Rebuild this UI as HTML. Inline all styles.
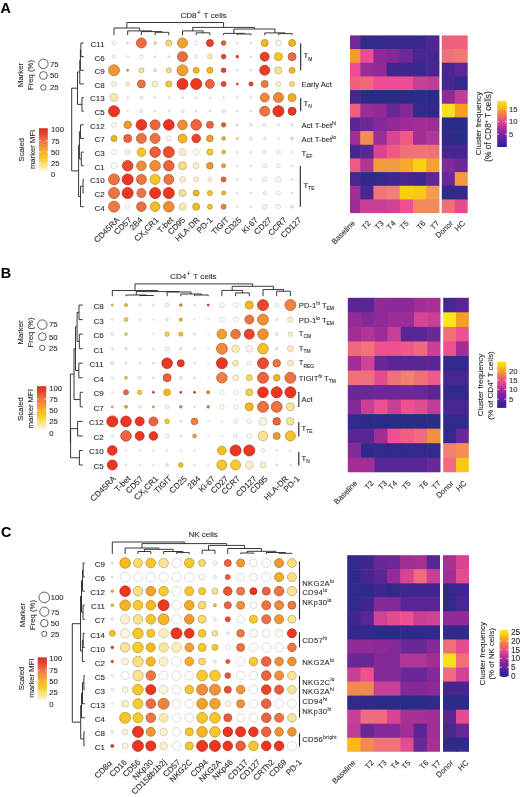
<!DOCTYPE html>
<html><head><meta charset="utf-8"><style>
html,body{margin:0;padding:0;background:#fff;}
svg{display:block;filter:blur(0.35px);}
text{font-family:"Liberation Sans",sans-serif;stroke:#2b2b2b;stroke-width:0.1px;}
</style></head><body>
<svg width="520" height="797" viewBox="0 0 520 797">
<rect width="520" height="797" fill="#fff"/>
<g id="panelA">
<text x="0.6" y="12.9" font-size="14.4" text-anchor="start" font-weight="bold" fill="#000" >A</text>
<text x="180.4" y="18.1" font-size="8.1" text-anchor="start" fill="#2b2b2b" >CD8<tspan font-size="6.5" dy="-3.6" dx="0.5">+</tspan><tspan dy="3.6" dx="0.6"> T cells</tspan></text>
<path d="M155.1,35.2V32.3H168.8V35.2 M141.4,35.2V31.6H161.95V32.3 M127.7,35.2V30.9H151.68V31.6 M114,35.2V28H139.69V30.9 M196.2,35.2V32.8H209.9V35.2 M182.5,35.2V30.9H203.05V32.8 M237.3,35.2V34H251V35.2 M223.6,35.2V33.4H244.15V34 M278.4,35.2V33.6H292.1V35.2 M264.7,35.2V32.9H285.25V33.6 M233.88,33.4V29H274.98V32.9 M192.77,30.9V27.4H254.43V29 M126.84,28V22.5H223.6V27.4" fill="none" stroke="#222" stroke-width="0.9"/>
<path d="M83.8,43H80.9V56.64H83.8 M80.9,49.82H80.4V70.28H83.8 M80.4,60.05H79.8V83.92H83.8 M83.8,97.56H82V111.2H83.8 M79.8,71.98H77.5V104.38H82 M83.8,124.84H80.5V138.48H83.8 M83.8,152.12H81.3V165.76H83.8 M80.5,131.66H79.4V158.94H81.3 M83.8,179.4H83V193.04H83.8 M83,186.22H80.5V206.68H83.8 M79.4,145.3H78.6V196.45H80.5 M77.5,88.18H71.7V170.88H78.6" fill="none" stroke="#222" stroke-width="0.9"/>
<text x="104.7" y="46.9" font-size="8" text-anchor="end" fill="#2b2b2b" >C11</text>
<text x="104.7" y="60.54" font-size="8" text-anchor="end" fill="#2b2b2b" >C6</text>
<text x="104.7" y="74.18" font-size="8" text-anchor="end" fill="#2b2b2b" >C9</text>
<text x="104.7" y="87.82" font-size="8" text-anchor="end" fill="#2b2b2b" >C8</text>
<text x="104.7" y="101.46" font-size="8" text-anchor="end" fill="#2b2b2b" >C13</text>
<text x="104.7" y="115.1" font-size="8" text-anchor="end" fill="#2b2b2b" >C5</text>
<text x="104.7" y="128.74" font-size="8" text-anchor="end" fill="#2b2b2b" >C12</text>
<text x="104.7" y="142.38" font-size="8" text-anchor="end" fill="#2b2b2b" >C7</text>
<text x="104.7" y="156.02" font-size="8" text-anchor="end" fill="#2b2b2b" >C3</text>
<text x="104.7" y="169.66" font-size="8" text-anchor="end" fill="#2b2b2b" >C1</text>
<text x="104.7" y="183.3" font-size="8" text-anchor="end" fill="#2b2b2b" >C10</text>
<text x="104.7" y="196.94" font-size="8" text-anchor="end" fill="#2b2b2b" >C2</text>
<text x="104.7" y="210.58" font-size="8" text-anchor="end" fill="#2b2b2b" >C4</text>
<circle cx="114" cy="43" r="2" fill="#fefcf8" stroke="#d3d1ce" stroke-width="0.75"/>
<circle cx="127.7" cy="43" r="1" fill="#fcf5e4" stroke="#c5bfb2" stroke-width="0.7"/>
<circle cx="141.4" cy="43" r="5" fill="#ec6c44" stroke="#b15133" stroke-width="0.75"/>
<circle cx="155.1" cy="43" r="1.5" fill="#fbe8af" stroke="#c4b588" stroke-width="0.7"/>
<circle cx="168.8" cy="43" r="3" fill="#f9db72" stroke="#bba456" stroke-width="0.75"/>
<circle cx="182.5" cy="43" r="5" fill="#f2a22d" stroke="#b67a22" stroke-width="0.75"/>
<circle cx="196.2" cy="43" r="2" fill="#fefcf8" stroke="#d3d1ce" stroke-width="0.75"/>
<circle cx="209.9" cy="43" r="3.5" fill="#ec3d25" stroke="#b12e1c" stroke-width="0.75"/>
<circle cx="223.6" cy="43" r="2.3" fill="#ec5d3a" stroke="#b1462c" stroke-width="0.75"/>
<circle cx="237.3" cy="43" r="0.8" fill="#fcf5e4" stroke="#c5bfb2" stroke-width="0.7"/>
<circle cx="251" cy="43" r="0.8" fill="#fcf5e4" stroke="#c5bfb2" stroke-width="0.7"/>
<circle cx="264.7" cy="43" r="3.5" fill="#f4b423" stroke="#b7871a" stroke-width="0.75"/>
<circle cx="278.4" cy="43" r="3" fill="#fcf5e4" stroke="#d1cbbd" stroke-width="0.75"/>
<circle cx="292.1" cy="43" r="3.5" fill="#f4b423" stroke="#b7871a" stroke-width="0.75"/>
<circle cx="114" cy="56.64" r="1.5" fill="#fdfaf4" stroke="#c5c3be" stroke-width="0.7"/>
<circle cx="127.7" cy="56.64" r="0.8" fill="#fcf5e4" stroke="#c5bfb2" stroke-width="0.7"/>
<circle cx="141.4" cy="56.64" r="2" fill="#fefcf8" stroke="#d3d1ce" stroke-width="0.75"/>
<circle cx="155.1" cy="56.64" r="0.8" fill="#fcf5e4" stroke="#c5bfb2" stroke-width="0.7"/>
<circle cx="168.8" cy="56.64" r="0.8" fill="#fcf5e4" stroke="#c5bfb2" stroke-width="0.7"/>
<circle cx="182.5" cy="56.64" r="5" fill="#ec6c44" stroke="#b15133" stroke-width="0.75"/>
<circle cx="196.2" cy="56.64" r="1.5" fill="#fdfaf4" stroke="#c5c3be" stroke-width="0.7"/>
<circle cx="209.9" cy="56.64" r="2.5" fill="#fbe8af" stroke="#d0c191" stroke-width="0.75"/>
<circle cx="223.6" cy="56.64" r="2.3" fill="#ec472b" stroke="#b13520" stroke-width="0.75"/>
<circle cx="237.3" cy="56.64" r="1.3" fill="#ec472b" stroke="#992e1c" stroke-width="0.7"/>
<circle cx="251" cy="56.64" r="0.8" fill="#fcf5e4" stroke="#c5bfb2" stroke-width="0.7"/>
<circle cx="264.7" cy="56.64" r="4.5" fill="#ec3d25" stroke="#b12e1c" stroke-width="0.75"/>
<circle cx="278.4" cy="56.64" r="4" fill="#f6c62b" stroke="#b89420" stroke-width="0.75"/>
<circle cx="292.1" cy="56.64" r="4" fill="#ec6c44" stroke="#b15133" stroke-width="0.75"/>
<circle cx="114" cy="70.28" r="5.5" fill="#f19834" stroke="#b57227" stroke-width="0.75"/>
<circle cx="127.7" cy="70.28" r="1" fill="#f2a22d" stroke="#9d691d" stroke-width="0.7"/>
<circle cx="141.4" cy="70.28" r="2.5" fill="#fae398" stroke="#bcaa72" stroke-width="0.75"/>
<circle cx="155.1" cy="70.28" r="1.5" fill="#fbeecd" stroke="#c4baa0" stroke-width="0.7"/>
<circle cx="168.8" cy="70.28" r="2.5" fill="#fade82" stroke="#bca662" stroke-width="0.75"/>
<circle cx="182.5" cy="70.28" r="5.5" fill="#f29e30" stroke="#b67624" stroke-width="0.75"/>
<circle cx="196.2" cy="70.28" r="3" fill="#f5b820" stroke="#b88a18" stroke-width="0.75"/>
<circle cx="209.9" cy="70.28" r="3" fill="#f5b820" stroke="#b88a18" stroke-width="0.75"/>
<circle cx="223.6" cy="70.28" r="2.3" fill="#ec3d25" stroke="#b12e1c" stroke-width="0.75"/>
<circle cx="237.3" cy="70.28" r="0.8" fill="#fcf5e4" stroke="#c5bfb2" stroke-width="0.7"/>
<circle cx="251" cy="70.28" r="0.8" fill="#fcf5e4" stroke="#c5bfb2" stroke-width="0.7"/>
<circle cx="264.7" cy="70.28" r="5" fill="#ec3d25" stroke="#b12e1c" stroke-width="0.75"/>
<circle cx="278.4" cy="70.28" r="3.5" fill="#fae398" stroke="#bcaa72" stroke-width="0.75"/>
<circle cx="292.1" cy="70.28" r="3" fill="#f5b820" stroke="#b88a18" stroke-width="0.75"/>
<circle cx="114" cy="83.92" r="2.5" fill="#fcf5e4" stroke="#d1cbbd" stroke-width="0.75"/>
<circle cx="127.7" cy="83.92" r="2" fill="#fbeecd" stroke="#d0c6aa" stroke-width="0.75"/>
<circle cx="141.4" cy="83.92" r="4" fill="#ed7342" stroke="#b25632" stroke-width="0.75"/>
<circle cx="155.1" cy="83.92" r="3" fill="#fbeecd" stroke="#d0c6aa" stroke-width="0.75"/>
<circle cx="168.8" cy="83.92" r="3" fill="#f7ca2d" stroke="#b99822" stroke-width="0.75"/>
<circle cx="182.5" cy="83.92" r="5.5" fill="#ec3621" stroke="#b12819" stroke-width="0.75"/>
<circle cx="196.2" cy="83.92" r="5.5" fill="#ec3621" stroke="#b12819" stroke-width="0.75"/>
<circle cx="209.9" cy="83.92" r="4.5" fill="#ec633e" stroke="#b14a2e" stroke-width="0.75"/>
<circle cx="223.6" cy="83.92" r="2.5" fill="#ec472b" stroke="#b13520" stroke-width="0.75"/>
<circle cx="237.3" cy="83.92" r="1" fill="#ec472b" stroke="#992e1c" stroke-width="0.7"/>
<circle cx="251" cy="83.92" r="2" fill="#ec3d25" stroke="#b12e1c" stroke-width="0.75"/>
<circle cx="264.7" cy="83.92" r="3.5" fill="#ee7b40" stroke="#b25c30" stroke-width="0.75"/>
<circle cx="278.4" cy="83.92" r="2.5" fill="#fbeecd" stroke="#d0c6aa" stroke-width="0.75"/>
<circle cx="292.1" cy="83.92" r="2.5" fill="#fade82" stroke="#bca662" stroke-width="0.75"/>
<circle cx="114" cy="97.56" r="4" fill="#fbe8af" stroke="#d0c191" stroke-width="0.75"/>
<circle cx="127.7" cy="97.56" r="0.8" fill="#fcf5e4" stroke="#c5bfb2" stroke-width="0.7"/>
<circle cx="141.4" cy="97.56" r="1.5" fill="#fdfaf4" stroke="#c5c3be" stroke-width="0.7"/>
<circle cx="155.1" cy="97.56" r="0.8" fill="#fdfaf4" stroke="#c5c3be" stroke-width="0.7"/>
<circle cx="168.8" cy="97.56" r="0.8" fill="#fdfaf4" stroke="#c5c3be" stroke-width="0.7"/>
<circle cx="182.5" cy="97.56" r="0.8" fill="#fdfaf4" stroke="#c5c3be" stroke-width="0.7"/>
<circle cx="196.2" cy="97.56" r="0.8" fill="#fdfaf4" stroke="#c5c3be" stroke-width="0.7"/>
<circle cx="209.9" cy="97.56" r="0.8" fill="#fdfaf4" stroke="#c5c3be" stroke-width="0.7"/>
<circle cx="223.6" cy="97.56" r="0.8" fill="#fdfaf4" stroke="#c5c3be" stroke-width="0.7"/>
<circle cx="237.3" cy="97.56" r="0.8" fill="#fdfaf4" stroke="#c5c3be" stroke-width="0.7"/>
<circle cx="251" cy="97.56" r="0.8" fill="#fdfaf4" stroke="#c5c3be" stroke-width="0.7"/>
<circle cx="264.7" cy="97.56" r="4.5" fill="#f0883c" stroke="#b4662d" stroke-width="0.75"/>
<circle cx="278.4" cy="97.56" r="5" fill="#f0883c" stroke="#b4662d" stroke-width="0.75"/>
<circle cx="292.1" cy="97.56" r="4" fill="#f4ad27" stroke="#b7821d" stroke-width="0.75"/>
<circle cx="114" cy="111.2" r="5.5" fill="#ec3621" stroke="#b12819" stroke-width="0.75"/>
<circle cx="127.7" cy="111.2" r="0.5" fill="#fdfaf4" stroke="#c5c3be" stroke-width="0.7"/>
<circle cx="141.4" cy="111.2" r="1.5" fill="#fdfaf4" stroke="#c5c3be" stroke-width="0.7"/>
<circle cx="155.1" cy="111.2" r="0.8" fill="#fdfaf4" stroke="#c5c3be" stroke-width="0.7"/>
<circle cx="168.8" cy="111.2" r="0.8" fill="#fdfaf4" stroke="#c5c3be" stroke-width="0.7"/>
<circle cx="182.5" cy="111.2" r="1.5" fill="#fdfaf4" stroke="#c5c3be" stroke-width="0.7"/>
<circle cx="196.2" cy="111.2" r="0.8" fill="#fdfaf4" stroke="#c5c3be" stroke-width="0.7"/>
<circle cx="209.9" cy="111.2" r="0.8" fill="#fdfaf4" stroke="#c5c3be" stroke-width="0.7"/>
<circle cx="223.6" cy="111.2" r="1.5" fill="#fcf5e4" stroke="#c5bfb2" stroke-width="0.7"/>
<circle cx="237.3" cy="111.2" r="0.8" fill="#fdfaf4" stroke="#c5c3be" stroke-width="0.7"/>
<circle cx="251" cy="111.2" r="0.8" fill="#fdfaf4" stroke="#c5c3be" stroke-width="0.7"/>
<circle cx="264.7" cy="111.2" r="5" fill="#ed7342" stroke="#b25632" stroke-width="0.75"/>
<circle cx="278.4" cy="111.2" r="5.5" fill="#ec3621" stroke="#b12819" stroke-width="0.75"/>
<circle cx="292.1" cy="111.2" r="4" fill="#ec3621" stroke="#b12819" stroke-width="0.75"/>
<circle cx="114" cy="124.84" r="2.5" fill="#fdfaf4" stroke="#d2d0cb" stroke-width="0.75"/>
<circle cx="127.7" cy="124.84" r="3.8" fill="#f19834" stroke="#b57227" stroke-width="0.75"/>
<circle cx="141.4" cy="124.84" r="5.3" fill="#ec3621" stroke="#b12819" stroke-width="0.75"/>
<circle cx="155.1" cy="124.84" r="5" fill="#ec633e" stroke="#b14a2e" stroke-width="0.75"/>
<circle cx="168.8" cy="124.84" r="5.3" fill="#ec311e" stroke="#b12516" stroke-width="0.75"/>
<circle cx="182.5" cy="124.84" r="4.8" fill="#f08d39" stroke="#b46a2b" stroke-width="0.75"/>
<circle cx="196.2" cy="124.84" r="5.3" fill="#ec633e" stroke="#b14a2e" stroke-width="0.75"/>
<circle cx="209.9" cy="124.84" r="3.5" fill="#ec633e" stroke="#b14a2e" stroke-width="0.75"/>
<circle cx="223.6" cy="124.84" r="2.2" fill="#ec5d3a" stroke="#b1462c" stroke-width="0.75"/>
<circle cx="237.3" cy="124.84" r="1" fill="#fcf5e4" stroke="#c5bfb2" stroke-width="0.7"/>
<circle cx="251" cy="124.84" r="1.3" fill="#fdfaf4" stroke="#c5c3be" stroke-width="0.7"/>
<circle cx="264.7" cy="124.84" r="1.5" fill="#fdfaf4" stroke="#c5c3be" stroke-width="0.7"/>
<circle cx="278.4" cy="124.84" r="1" fill="#fdfaf4" stroke="#c5c3be" stroke-width="0.7"/>
<circle cx="292.1" cy="124.84" r="1" fill="#fdfaf4" stroke="#c5c3be" stroke-width="0.7"/>
<circle cx="114" cy="138.48" r="3" fill="#f4b423" stroke="#b7871a" stroke-width="0.75"/>
<circle cx="127.7" cy="138.48" r="4" fill="#ec633e" stroke="#b14a2e" stroke-width="0.75"/>
<circle cx="141.4" cy="138.48" r="5" fill="#ed7342" stroke="#b25632" stroke-width="0.75"/>
<circle cx="155.1" cy="138.48" r="5" fill="#ed7342" stroke="#b25632" stroke-width="0.75"/>
<circle cx="168.8" cy="138.48" r="2.5" fill="#fefcf8" stroke="#d3d1ce" stroke-width="0.75"/>
<circle cx="182.5" cy="138.48" r="4.5" fill="#f4b423" stroke="#b7871a" stroke-width="0.75"/>
<circle cx="196.2" cy="138.48" r="4.3" fill="#ec4228" stroke="#b1321e" stroke-width="0.75"/>
<circle cx="209.9" cy="138.48" r="3.3" fill="#f19834" stroke="#b57227" stroke-width="0.75"/>
<circle cx="223.6" cy="138.48" r="1.8" fill="#f4ad27" stroke="#9f7019" stroke-width="0.7"/>
<circle cx="237.3" cy="138.48" r="1.3" fill="#fbebbe" stroke="#c4b794" stroke-width="0.7"/>
<circle cx="251" cy="138.48" r="1.5" fill="#fdfaf4" stroke="#c5c3be" stroke-width="0.7"/>
<circle cx="264.7" cy="138.48" r="1.3" fill="#fdfaf4" stroke="#c5c3be" stroke-width="0.7"/>
<circle cx="278.4" cy="138.48" r="0.8" fill="#fdfaf4" stroke="#c5c3be" stroke-width="0.7"/>
<circle cx="292.1" cy="138.48" r="1.5" fill="#fbebbe" stroke="#c4b794" stroke-width="0.7"/>
<circle cx="114" cy="152.12" r="2.5" fill="#fefcf8" stroke="#d3d1ce" stroke-width="0.75"/>
<circle cx="127.7" cy="152.12" r="2.5" fill="#fcf5e4" stroke="#d1cbbd" stroke-width="0.75"/>
<circle cx="141.4" cy="152.12" r="4.3" fill="#f6c62b" stroke="#b89420" stroke-width="0.75"/>
<circle cx="155.1" cy="152.12" r="5.3" fill="#ec5d3a" stroke="#b1462c" stroke-width="0.75"/>
<circle cx="168.8" cy="152.12" r="5.5" fill="#ec4f30" stroke="#b13b24" stroke-width="0.75"/>
<circle cx="182.5" cy="152.12" r="3.5" fill="#fbeecd" stroke="#d0c6aa" stroke-width="0.75"/>
<circle cx="196.2" cy="152.12" r="3" fill="#fdfaf4" stroke="#d2d0cb" stroke-width="0.75"/>
<circle cx="209.9" cy="152.12" r="3" fill="#f7ca2d" stroke="#b99822" stroke-width="0.75"/>
<circle cx="223.6" cy="152.12" r="1.8" fill="#f6c127" stroke="#a07d19" stroke-width="0.7"/>
<circle cx="237.3" cy="152.12" r="0.8" fill="#fdfaf4" stroke="#c5c3be" stroke-width="0.7"/>
<circle cx="251" cy="152.12" r="0.8" fill="#fdfaf4" stroke="#c5c3be" stroke-width="0.7"/>
<circle cx="264.7" cy="152.12" r="1.5" fill="#fdfaf4" stroke="#c5c3be" stroke-width="0.7"/>
<circle cx="278.4" cy="152.12" r="2" fill="#fdfaf4" stroke="#d2d0cb" stroke-width="0.75"/>
<circle cx="292.1" cy="152.12" r="0.8" fill="#fdfaf4" stroke="#c5c3be" stroke-width="0.7"/>
<circle cx="114" cy="165.76" r="3" fill="#fefcf8" stroke="#d3d1ce" stroke-width="0.75"/>
<circle cx="127.7" cy="165.76" r="5.3" fill="#ec472b" stroke="#b13520" stroke-width="0.75"/>
<circle cx="141.4" cy="165.76" r="4.8" fill="#f08d39" stroke="#b46a2b" stroke-width="0.75"/>
<circle cx="155.1" cy="165.76" r="5.3" fill="#f08d39" stroke="#b46a2b" stroke-width="0.75"/>
<circle cx="168.8" cy="165.76" r="5.3" fill="#ec633e" stroke="#b14a2e" stroke-width="0.75"/>
<circle cx="182.5" cy="165.76" r="4" fill="#fade82" stroke="#bca662" stroke-width="0.75"/>
<circle cx="196.2" cy="165.76" r="3" fill="#fbeecd" stroke="#d0c6aa" stroke-width="0.75"/>
<circle cx="209.9" cy="165.76" r="3.3" fill="#f19834" stroke="#b57227" stroke-width="0.75"/>
<circle cx="223.6" cy="165.76" r="2" fill="#f2a22d" stroke="#b67a22" stroke-width="0.75"/>
<circle cx="237.3" cy="165.76" r="0.8" fill="#fdfaf4" stroke="#c5c3be" stroke-width="0.7"/>
<circle cx="251" cy="165.76" r="0.8" fill="#fdfaf4" stroke="#c5c3be" stroke-width="0.7"/>
<circle cx="264.7" cy="165.76" r="2" fill="#fdfaf4" stroke="#d2d0cb" stroke-width="0.75"/>
<circle cx="278.4" cy="165.76" r="2" fill="#fdfaf4" stroke="#d2d0cb" stroke-width="0.75"/>
<circle cx="292.1" cy="165.76" r="0.8" fill="#fdfaf4" stroke="#c5c3be" stroke-width="0.7"/>
<circle cx="114" cy="179.4" r="5.5" fill="#ed7342" stroke="#b25632" stroke-width="0.75"/>
<circle cx="127.7" cy="179.4" r="5.5" fill="#ec3621" stroke="#b12819" stroke-width="0.75"/>
<circle cx="141.4" cy="179.4" r="5" fill="#ed7342" stroke="#b25632" stroke-width="0.75"/>
<circle cx="155.1" cy="179.4" r="5" fill="#f6c62b" stroke="#b89420" stroke-width="0.75"/>
<circle cx="168.8" cy="179.4" r="5" fill="#ed7342" stroke="#b25632" stroke-width="0.75"/>
<circle cx="182.5" cy="179.4" r="3" fill="#fbeecd" stroke="#d0c6aa" stroke-width="0.75"/>
<circle cx="196.2" cy="179.4" r="2.5" fill="#fbeecd" stroke="#d0c6aa" stroke-width="0.75"/>
<circle cx="209.9" cy="179.4" r="2" fill="#fbeecd" stroke="#d0c6aa" stroke-width="0.75"/>
<circle cx="223.6" cy="179.4" r="2.5" fill="#ec633e" stroke="#b14a2e" stroke-width="0.75"/>
<circle cx="237.3" cy="179.4" r="0.8" fill="#fdfaf4" stroke="#c5c3be" stroke-width="0.7"/>
<circle cx="251" cy="179.4" r="0.8" fill="#fdfaf4" stroke="#c5c3be" stroke-width="0.7"/>
<circle cx="264.7" cy="179.4" r="2.3" fill="#fdfaf4" stroke="#d2d0cb" stroke-width="0.75"/>
<circle cx="278.4" cy="179.4" r="2.8" fill="#fdfaf4" stroke="#d2d0cb" stroke-width="0.75"/>
<circle cx="292.1" cy="179.4" r="0.8" fill="#fdfaf4" stroke="#c5c3be" stroke-width="0.7"/>
<circle cx="114" cy="193.04" r="5.5" fill="#ed7342" stroke="#b25632" stroke-width="0.75"/>
<circle cx="127.7" cy="193.04" r="5.5" fill="#ec3621" stroke="#b12819" stroke-width="0.75"/>
<circle cx="141.4" cy="193.04" r="4.5" fill="#ed7342" stroke="#b25632" stroke-width="0.75"/>
<circle cx="155.1" cy="193.04" r="5.5" fill="#ec3621" stroke="#b12819" stroke-width="0.75"/>
<circle cx="168.8" cy="193.04" r="5.5" fill="#ec3621" stroke="#b12819" stroke-width="0.75"/>
<circle cx="182.5" cy="193.04" r="3.5" fill="#fae398" stroke="#bcaa72" stroke-width="0.75"/>
<circle cx="196.2" cy="193.04" r="3" fill="#f4b423" stroke="#b7871a" stroke-width="0.75"/>
<circle cx="209.9" cy="193.04" r="2.5" fill="#f6c62b" stroke="#b89420" stroke-width="0.75"/>
<circle cx="223.6" cy="193.04" r="2" fill="#f4b423" stroke="#b7871a" stroke-width="0.75"/>
<circle cx="237.3" cy="193.04" r="0.8" fill="#fdfaf4" stroke="#c5c3be" stroke-width="0.7"/>
<circle cx="251" cy="193.04" r="0.8" fill="#fdfaf4" stroke="#c5c3be" stroke-width="0.7"/>
<circle cx="264.7" cy="193.04" r="1.5" fill="#fdfaf4" stroke="#c5c3be" stroke-width="0.7"/>
<circle cx="278.4" cy="193.04" r="2" fill="#fdfaf4" stroke="#d2d0cb" stroke-width="0.75"/>
<circle cx="292.1" cy="193.04" r="0.8" fill="#fdfaf4" stroke="#c5c3be" stroke-width="0.7"/>
<circle cx="114" cy="206.68" r="5.5" fill="#ee7b40" stroke="#b25c30" stroke-width="0.75"/>
<circle cx="127.7" cy="206.68" r="2" fill="#fefdfb" stroke="#d3d2d0" stroke-width="0.75"/>
<circle cx="141.4" cy="206.68" r="4.8" fill="#ec6c44" stroke="#b15133" stroke-width="0.75"/>
<circle cx="155.1" cy="206.68" r="4.8" fill="#f5bc23" stroke="#b88d1a" stroke-width="0.75"/>
<circle cx="168.8" cy="206.68" r="5.3" fill="#f08d39" stroke="#b46a2b" stroke-width="0.75"/>
<circle cx="182.5" cy="206.68" r="3.5" fill="#fbe8af" stroke="#d0c191" stroke-width="0.75"/>
<circle cx="196.2" cy="206.68" r="3.5" fill="#f5bc23" stroke="#b88d1a" stroke-width="0.75"/>
<circle cx="209.9" cy="206.68" r="2.5" fill="#f6c62b" stroke="#b89420" stroke-width="0.75"/>
<circle cx="223.6" cy="206.68" r="2.5" fill="#ef823f" stroke="#b3622f" stroke-width="0.75"/>
<circle cx="237.3" cy="206.68" r="0.8" fill="#fdfaf4" stroke="#c5c3be" stroke-width="0.7"/>
<circle cx="251" cy="206.68" r="0.8" fill="#fdfaf4" stroke="#c5c3be" stroke-width="0.7"/>
<circle cx="264.7" cy="206.68" r="2.5" fill="#fcf5e4" stroke="#d1cbbd" stroke-width="0.75"/>
<circle cx="278.4" cy="206.68" r="2.3" fill="#fdfaf4" stroke="#d2d0cb" stroke-width="0.75"/>
<circle cx="292.1" cy="206.68" r="1.5" fill="#fcf5e4" stroke="#c5bfb2" stroke-width="0.7"/>
<text transform="translate(120.1,220.5) rotate(-45)" font-size="8.2" text-anchor="end" fill="#2b2b2b">CD45RA</text>
<text transform="translate(132.1,220.5) rotate(-45)" font-size="8.2" text-anchor="end" fill="#2b2b2b">CD57</text>
<text transform="translate(143.2,220.5) rotate(-45)" font-size="8.2" text-anchor="end" fill="#2b2b2b">2B4</text>
<text transform="translate(159.2,220.5) rotate(-45)" font-size="8.2" text-anchor="end" fill="#2b2b2b">CX<tspan font-size="5" dy="1.5">3</tspan><tspan dy="-1.5">CR1</tspan></text>
<text transform="translate(173.9,220.5) rotate(-45)" font-size="8.2" text-anchor="end" fill="#2b2b2b">T-bet</text>
<text transform="translate(185.8,220.5) rotate(-45)" font-size="8.2" text-anchor="end" fill="#2b2b2b">CD95</text>
<text transform="translate(200.1,220.5) rotate(-45)" font-size="8.2" text-anchor="end" fill="#2b2b2b">HLA-DR</text>
<text transform="translate(213.2,220.5) rotate(-45)" font-size="8.2" text-anchor="end" fill="#2b2b2b">PD-1</text>
<text transform="translate(229.5,220.5) rotate(-45)" font-size="8.2" text-anchor="end" fill="#2b2b2b">TIGIT</text>
<text transform="translate(242.3,220.5) rotate(-45)" font-size="8.2" text-anchor="end" fill="#2b2b2b">CD25</text>
<text transform="translate(258.5,220.5) rotate(-45)" font-size="8.2" text-anchor="end" fill="#2b2b2b">Ki-67</text>
<text transform="translate(272.1,220.5) rotate(-45)" font-size="8.2" text-anchor="end" fill="#2b2b2b">CD27</text>
<text transform="translate(287.2,220.5) rotate(-45)" font-size="8.2" text-anchor="end" fill="#2b2b2b">CCR7</text>
<text transform="translate(302,220.5) rotate(-45)" font-size="8.2" text-anchor="end" fill="#2b2b2b">CD127</text>
<line x1="300.7" y1="43.3" x2="300.7" y2="70.4" stroke="#222" stroke-width="1.1"/>
<text x="303.6" y="58.3" font-size="7.7" text-anchor="start" fill="#2b2b2b" >T<tspan font-size="4.9" dy="2.2">M</tspan></text>
<text x="301.5" y="87.3" font-size="7.7" text-anchor="start" fill="#2b2b2b" >Early Act</text>
<line x1="300.7" y1="98" x2="300.7" y2="111.3" stroke="#222" stroke-width="1.1"/>
<text x="303.6" y="106" font-size="7.7" text-anchor="start" fill="#2b2b2b" >T<tspan font-size="4.9" dy="2.2">N</tspan></text>
<text x="301.6" y="128.4" font-size="7.7" text-anchor="start" fill="#2b2b2b" >Act T-bet<tspan font-size="4.6" dy="-3.2">hi</tspan></text>
<text x="301.6" y="142.3" font-size="7.7" text-anchor="start" fill="#2b2b2b" >Act T-bet<tspan font-size="4.6" dy="-3.2">lo</tspan></text>
<text x="301.6" y="155.5" font-size="7.7" text-anchor="start" fill="#2b2b2b" >T<tspan font-size="4.9" dy="2.2">EF</tspan></text>
<line x1="300.3" y1="166" x2="300.3" y2="206.8" stroke="#222" stroke-width="1.1"/>
<text x="303.6" y="187.7" font-size="7.7" text-anchor="start" fill="#2b2b2b" >T<tspan font-size="4.9" dy="2.2">TE</tspan></text>
<text transform="translate(19.8,75) rotate(-90)" font-size="7.7" text-anchor="middle" fill="#2b2b2b" dy="0.35em">Marker</text>
<text transform="translate(29.8,75) rotate(-90)" font-size="7.7" text-anchor="middle" fill="#2b2b2b" dy="0.35em">Freq (%)</text>
<circle cx="43.4" cy="63.8" r="4.75" fill="none" stroke="#2b2b2b" stroke-width="0.75"/>
<text x="50" y="66.6" font-size="7.7" text-anchor="start" fill="#2b2b2b" >75</text>
<circle cx="43.4" cy="75.5" r="3.9" fill="none" stroke="#2b2b2b" stroke-width="0.75"/>
<text x="50" y="78.3" font-size="7.7" text-anchor="start" fill="#2b2b2b" >50</text>
<circle cx="43.4" cy="87.5" r="2.7" fill="none" stroke="#2b2b2b" stroke-width="0.75"/>
<text x="50" y="90.3" font-size="7.7" text-anchor="start" fill="#2b2b2b" >25</text>
<text transform="translate(21.5,149.7) rotate(-90)" font-size="7.7" text-anchor="middle" fill="#2b2b2b" dy="0.35em">Scaled</text>
<text transform="translate(31.9,149.4) rotate(-90)" font-size="7.7" text-anchor="middle" fill="#2b2b2b" dy="0.35em">marker MFI</text>
<defs><linearGradient id="dg1" x1="0" y1="1" x2="0" y2="0"><stop offset="0.000" stop-color="#fffaf0"/><stop offset="0.100" stop-color="#fcecb0"/><stop offset="0.250" stop-color="#f9d640"/><stop offset="0.400" stop-color="#f7be1c"/><stop offset="0.500" stop-color="#f5a82c"/><stop offset="0.620" stop-color="#f08a40"/><stop offset="0.750" stop-color="#ec6a44"/><stop offset="0.850" stop-color="#e44a30"/><stop offset="1.000" stop-color="#da2e20"/></linearGradient></defs>
<rect x="39" y="128.2" width="8.8" height="43.7" fill="url(#dg1)"/>
<text x="51.1" y="132.3" font-size="7.7" text-anchor="start" fill="#2b2b2b" >100</text>
<text x="51.1" y="143.5" font-size="7.7" text-anchor="start" fill="#2b2b2b" >75</text>
<text x="51.1" y="154.8" font-size="7.7" text-anchor="start" fill="#2b2b2b" >50</text>
<text x="51.1" y="166" font-size="7.7" text-anchor="start" fill="#2b2b2b" >25</text>
<text x="51.1" y="177.4" font-size="7.7" text-anchor="start" fill="#2b2b2b" >0</text>
<line x1="39" y1="140.7" x2="41" y2="140.7" stroke="#fff" stroke-width="0.6"/>
<line x1="45.8" y1="140.7" x2="47.8" y2="140.7" stroke="#fff" stroke-width="0.6"/>
<line x1="39" y1="152" x2="41" y2="152" stroke="#fff" stroke-width="0.6"/>
<line x1="45.8" y1="152" x2="47.8" y2="152" stroke="#fff" stroke-width="0.6"/>
<line x1="39" y1="163.2" x2="41" y2="163.2" stroke="#fff" stroke-width="0.6"/>
<line x1="45.8" y1="163.2" x2="47.8" y2="163.2" stroke="#fff" stroke-width="0.6"/>
<rect x="350" y="35.4" width="10.8" height="14.27" fill="#722898"/>
<rect x="360.2" y="35.4" width="13.8" height="14.27" fill="#342a8c"/>
<rect x="373.4" y="35.4" width="13.8" height="14.27" fill="#342a8c"/>
<rect x="386.6" y="35.4" width="13.8" height="14.27" fill="#38298e"/>
<rect x="399.8" y="35.4" width="13.8" height="14.27" fill="#38298e"/>
<rect x="413" y="35.4" width="13.8" height="14.27" fill="#3b288e"/>
<rect x="426.2" y="35.4" width="13.2" height="14.27" fill="#4e2792"/>
<rect x="441.8" y="35.4" width="13.55" height="14.27" fill="#ee5e7e"/>
<rect x="454.75" y="35.4" width="12.95" height="14.27" fill="#ee607c"/>
<rect x="350" y="49.07" width="10.8" height="14.27" fill="#f59a2a"/>
<rect x="360.2" y="49.07" width="13.8" height="14.27" fill="#ee4c94"/>
<rect x="373.4" y="49.07" width="13.8" height="14.27" fill="#8e2a98"/>
<rect x="386.6" y="49.07" width="13.8" height="14.27" fill="#832a98"/>
<rect x="399.8" y="49.07" width="13.8" height="14.27" fill="#6e2796"/>
<rect x="413" y="49.07" width="13.8" height="14.27" fill="#472690"/>
<rect x="426.2" y="49.07" width="13.2" height="14.27" fill="#472690"/>
<rect x="441.8" y="49.07" width="13.55" height="14.27" fill="#f0707a"/>
<rect x="454.75" y="49.07" width="12.95" height="14.27" fill="#f07a70"/>
<rect x="350" y="62.74" width="10.8" height="14.27" fill="#ee4c94"/>
<rect x="360.2" y="62.74" width="13.8" height="14.27" fill="#9c2c96"/>
<rect x="373.4" y="62.74" width="13.8" height="14.27" fill="#922a97"/>
<rect x="386.6" y="62.74" width="13.8" height="14.27" fill="#3f278f"/>
<rect x="399.8" y="62.74" width="13.8" height="14.27" fill="#3f278f"/>
<rect x="413" y="62.74" width="13.8" height="14.27" fill="#38298e"/>
<rect x="426.2" y="62.74" width="13.2" height="14.27" fill="#472690"/>
<rect x="441.8" y="62.74" width="13.55" height="14.27" fill="#472690"/>
<rect x="454.75" y="62.74" width="12.95" height="14.27" fill="#5f2695"/>
<rect x="350" y="76.41" width="10.8" height="14.27" fill="#f0607e"/>
<rect x="360.2" y="76.41" width="13.8" height="14.27" fill="#f0687a"/>
<rect x="373.4" y="76.41" width="13.8" height="14.27" fill="#ee4c94"/>
<rect x="386.6" y="76.41" width="13.8" height="14.27" fill="#ee4c94"/>
<rect x="399.8" y="76.41" width="13.8" height="14.27" fill="#ee4c94"/>
<rect x="413" y="76.41" width="13.8" height="14.27" fill="#c84096"/>
<rect x="426.2" y="76.41" width="13.2" height="14.27" fill="#c03c96"/>
<rect x="441.8" y="76.41" width="13.55" height="14.27" fill="#472690"/>
<rect x="454.75" y="76.41" width="12.95" height="14.27" fill="#312a8b"/>
<rect x="350" y="90.08" width="10.8" height="14.27" fill="#472690"/>
<rect x="360.2" y="90.08" width="13.8" height="14.27" fill="#2a2c88"/>
<rect x="373.4" y="90.08" width="13.8" height="14.27" fill="#2a2c88"/>
<rect x="386.6" y="90.08" width="13.8" height="14.27" fill="#2a2c88"/>
<rect x="399.8" y="90.08" width="13.8" height="14.27" fill="#2a2c88"/>
<rect x="413" y="90.08" width="13.8" height="14.27" fill="#2a2c88"/>
<rect x="426.2" y="90.08" width="13.2" height="14.27" fill="#2a2c88"/>
<rect x="441.8" y="90.08" width="13.55" height="14.27" fill="#8e2a98"/>
<rect x="454.75" y="90.08" width="12.95" height="14.27" fill="#c03c96"/>
<rect x="350" y="103.75" width="10.8" height="14.27" fill="#f0607e"/>
<rect x="360.2" y="103.75" width="13.8" height="14.27" fill="#9c2c96"/>
<rect x="373.4" y="103.75" width="13.8" height="14.27" fill="#922a97"/>
<rect x="386.6" y="103.75" width="13.8" height="14.27" fill="#6a2796"/>
<rect x="399.8" y="103.75" width="13.8" height="14.27" fill="#832a98"/>
<rect x="413" y="103.75" width="13.8" height="14.27" fill="#312a8b"/>
<rect x="426.2" y="103.75" width="13.2" height="14.27" fill="#312a8b"/>
<rect x="441.8" y="103.75" width="13.55" height="14.27" fill="#f8e020"/>
<rect x="454.75" y="103.75" width="12.95" height="14.27" fill="#f5a020"/>
<rect x="350" y="117.42" width="10.8" height="14.27" fill="#5a2594"/>
<rect x="360.2" y="117.42" width="13.8" height="14.27" fill="#6e2796"/>
<rect x="373.4" y="117.42" width="13.8" height="14.27" fill="#832a98"/>
<rect x="386.6" y="117.42" width="13.8" height="14.27" fill="#922a97"/>
<rect x="399.8" y="117.42" width="13.8" height="14.27" fill="#9c2c96"/>
<rect x="413" y="117.42" width="13.8" height="14.27" fill="#a22e95"/>
<rect x="426.2" y="117.42" width="13.2" height="14.27" fill="#9c2c96"/>
<rect x="441.8" y="117.42" width="13.55" height="14.27" fill="#2a2c88"/>
<rect x="454.75" y="117.42" width="12.95" height="14.27" fill="#2a2c88"/>
<rect x="350" y="131.09" width="10.8" height="14.27" fill="#a22e95"/>
<rect x="360.2" y="131.09" width="13.8" height="14.27" fill="#f28c50"/>
<rect x="373.4" y="131.09" width="13.8" height="14.27" fill="#9c2c96"/>
<rect x="386.6" y="131.09" width="13.8" height="14.27" fill="#d84492"/>
<rect x="399.8" y="131.09" width="13.8" height="14.27" fill="#ee5a84"/>
<rect x="413" y="131.09" width="13.8" height="14.27" fill="#a22e95"/>
<rect x="426.2" y="131.09" width="13.2" height="14.27" fill="#b03594"/>
<rect x="441.8" y="131.09" width="13.55" height="14.27" fill="#312a8b"/>
<rect x="454.75" y="131.09" width="12.95" height="14.27" fill="#2a2c88"/>
<rect x="350" y="144.76" width="10.8" height="14.27" fill="#472690"/>
<rect x="360.2" y="144.76" width="13.8" height="14.27" fill="#5a2594"/>
<rect x="373.4" y="144.76" width="13.8" height="14.27" fill="#d84492"/>
<rect x="386.6" y="144.76" width="13.8" height="14.27" fill="#ee5a84"/>
<rect x="399.8" y="144.76" width="13.8" height="14.27" fill="#f0707a"/>
<rect x="413" y="144.76" width="13.8" height="14.27" fill="#f07278"/>
<rect x="426.2" y="144.76" width="13.2" height="14.27" fill="#f07078"/>
<rect x="441.8" y="144.76" width="13.55" height="14.27" fill="#472690"/>
<rect x="454.75" y="144.76" width="12.95" height="14.27" fill="#472690"/>
<rect x="350" y="158.43" width="10.8" height="14.27" fill="#ee5a84"/>
<rect x="360.2" y="158.43" width="13.8" height="14.27" fill="#b03594"/>
<rect x="373.4" y="158.43" width="13.8" height="14.27" fill="#f29a40"/>
<rect x="386.6" y="158.43" width="13.8" height="14.27" fill="#f29a40"/>
<rect x="399.8" y="158.43" width="13.8" height="14.27" fill="#f5a82a"/>
<rect x="413" y="158.43" width="13.8" height="14.27" fill="#f8d010"/>
<rect x="426.2" y="158.43" width="13.2" height="14.27" fill="#f5a030"/>
<rect x="441.8" y="158.43" width="13.55" height="14.27" fill="#832a98"/>
<rect x="454.75" y="158.43" width="12.95" height="14.27" fill="#6e2796"/>
<rect x="350" y="172.1" width="10.8" height="14.27" fill="#472690"/>
<rect x="360.2" y="172.1" width="13.8" height="14.27" fill="#312a8b"/>
<rect x="373.4" y="172.1" width="13.8" height="14.27" fill="#312a8b"/>
<rect x="386.6" y="172.1" width="13.8" height="14.27" fill="#3f278f"/>
<rect x="399.8" y="172.1" width="13.8" height="14.27" fill="#472690"/>
<rect x="413" y="172.1" width="13.8" height="14.27" fill="#3f278f"/>
<rect x="426.2" y="172.1" width="13.2" height="14.27" fill="#5f2695"/>
<rect x="441.8" y="172.1" width="13.55" height="14.27" fill="#6a2796"/>
<rect x="454.75" y="172.1" width="12.95" height="14.27" fill="#f29a40"/>
<rect x="350" y="185.77" width="10.8" height="14.27" fill="#a22e95"/>
<rect x="360.2" y="185.77" width="13.8" height="14.27" fill="#472690"/>
<rect x="373.4" y="185.77" width="13.8" height="14.27" fill="#f07478"/>
<rect x="386.6" y="185.77" width="13.8" height="14.27" fill="#f08070"/>
<rect x="399.8" y="185.77" width="13.8" height="14.27" fill="#f8d010"/>
<rect x="413" y="185.77" width="13.8" height="14.27" fill="#f8c818"/>
<rect x="426.2" y="185.77" width="13.2" height="14.27" fill="#f29a50"/>
<rect x="441.8" y="185.77" width="13.55" height="14.27" fill="#312a8b"/>
<rect x="454.75" y="185.77" width="12.95" height="14.27" fill="#312a8b"/>
<rect x="350" y="199.44" width="10.8" height="13.67" fill="#9c2c96"/>
<rect x="360.2" y="199.44" width="13.8" height="13.67" fill="#c84096"/>
<rect x="373.4" y="199.44" width="13.8" height="13.67" fill="#c84096"/>
<rect x="386.6" y="199.44" width="13.8" height="13.67" fill="#d04294"/>
<rect x="399.8" y="199.44" width="13.8" height="13.67" fill="#ee5090"/>
<rect x="413" y="199.44" width="13.8" height="13.67" fill="#f28a5a"/>
<rect x="426.2" y="199.44" width="13.2" height="13.67" fill="#f28a5a"/>
<rect x="441.8" y="199.44" width="13.55" height="13.67" fill="#f07078"/>
<rect x="454.75" y="199.44" width="12.95" height="13.67" fill="#e44c90"/>
<text transform="translate(355.6,223.8) rotate(-45)" font-size="7.7" text-anchor="end" fill="#2b2b2b">Baseline</text>
<text transform="translate(371,223.8) rotate(-45)" font-size="7.7" text-anchor="end" fill="#2b2b2b">T2</text>
<text transform="translate(384.2,223.8) rotate(-45)" font-size="7.7" text-anchor="end" fill="#2b2b2b">T3</text>
<text transform="translate(396.2,223.8) rotate(-45)" font-size="7.7" text-anchor="end" fill="#2b2b2b">T4</text>
<text transform="translate(409.2,223.8) rotate(-45)" font-size="7.7" text-anchor="end" fill="#2b2b2b">T5</text>
<text transform="translate(426.1,223.8) rotate(-45)" font-size="7.7" text-anchor="end" fill="#2b2b2b">T6</text>
<text transform="translate(439.9,223.8) rotate(-45)" font-size="7.7" text-anchor="end" fill="#2b2b2b">T7</text>
<text transform="translate(453.4,223.8) rotate(-45)" font-size="7.7" text-anchor="end" fill="#2b2b2b">Donor</text>
<text transform="translate(465.6,223.8) rotate(-45)" font-size="7.7" text-anchor="end" fill="#2b2b2b">HC</text>
<text transform="translate(478.2,123.5) rotate(-90)" font-size="8.1" text-anchor="middle" fill="#2b2b2b" dy="0.35em">Cluster frequency</text>
<text transform="translate(488.2,126.5) rotate(-90)" font-size="8.4" text-anchor="middle" fill="#2b2b2b" dy="0.35em">(% of CD8<tspan font-size="5.2" dy="-3">+</tspan><tspan dy="3"> T cells)</tspan></text>
<defs><linearGradient id="hg2" x1="0" y1="1" x2="0" y2="0"><stop offset="0.000" stop-color="#2a2290"/><stop offset="0.120" stop-color="#4a209e"/><stop offset="0.270" stop-color="#7a22a0"/><stop offset="0.420" stop-color="#b43098"/><stop offset="0.540" stop-color="#e04890"/><stop offset="0.620" stop-color="#e85a78"/><stop offset="0.720" stop-color="#f08048"/><stop offset="0.830" stop-color="#f6a824"/><stop offset="0.900" stop-color="#f8cc18"/><stop offset="1.000" stop-color="#f8e214"/></linearGradient></defs>
<rect x="497.2" y="101" width="9.6" height="46" fill="url(#hg2)"/>
<line x1="497.2" y1="109.4" x2="499.2" y2="109.4" stroke="#fff" stroke-width="0.7"/>
<line x1="504.8" y1="109.4" x2="506.8" y2="109.4" stroke="#fff" stroke-width="0.7"/>
<text x="509" y="112.2" font-size="7.7" text-anchor="start" fill="#2b2b2b" >15</text>
<line x1="497.2" y1="121.6" x2="499.2" y2="121.6" stroke="#fff" stroke-width="0.7"/>
<line x1="504.8" y1="121.6" x2="506.8" y2="121.6" stroke="#fff" stroke-width="0.7"/>
<text x="509" y="124.4" font-size="7.7" text-anchor="start" fill="#2b2b2b" >10</text>
<line x1="497.2" y1="134.2" x2="499.2" y2="134.2" stroke="#fff" stroke-width="0.7"/>
<line x1="504.8" y1="134.2" x2="506.8" y2="134.2" stroke="#fff" stroke-width="0.7"/>
<text x="509" y="137" font-size="7.7" text-anchor="start" fill="#2b2b2b" >5</text>
</g>
<g id="panelB">
<text x="0.8" y="277.5" font-size="14.4" text-anchor="start" font-weight="bold" fill="#000" >B</text>
<text x="170.1" y="279.3" font-size="8.1" text-anchor="start" fill="#2b2b2b" >CD4<tspan font-size="6.5" dy="-3.6" dx="0.5">+</tspan><tspan dy="3.6" dx="0.6"> T cells</tspan></text>
<path d="M139.7,296.2V295.5H153.4V296.2 M126,296.2V295H146.55V295.5 M194.5,296.2V295H208.2V296.2 M180.8,296.2V294H201.35V295 M167.1,296.2V292H191.07V294 M136.27,295V291.6H179.09V292 M112.3,296.2V290.5H157.68V291.6 M235.6,296.2V292.9H249.3V296.2 M221.9,296.2V290.4H242.45V292.9 M276.7,296.2V291.2H290.4V296.2 M263,296.2V289.6H283.55V291.2 M232.17,290.4V286.3H273.27V289.6 M134.99,290.5V283.9H252.72V286.3" fill="none" stroke="#222" stroke-width="0.9"/>
<path d="M82.8,305.07H79V319.61H82.8 M82.8,334.15H79.3V348.69H82.8 M79,312.34H77.1V341.42H79.3 M82.8,363.23H78.8V377.77H82.8 M77.1,326.88H75.5V370.5H78.8 M82.8,392.31H80.2V406.85H82.8 M75.5,348.69H74V399.58H80.2 M82.8,421.39H77.6V435.93H82.8 M82.8,450.47H79.4V465.01H82.8 M77.6,428.66H70.6V457.74H79.4 M74,374.13H70.4V443.2H70.6" fill="none" stroke="#222" stroke-width="0.9"/>
<text x="103.7" y="309.07" font-size="8" text-anchor="end" fill="#2b2b2b" >C8</text>
<text x="103.7" y="323.61" font-size="8" text-anchor="end" fill="#2b2b2b" >C3</text>
<text x="103.7" y="338.15" font-size="8" text-anchor="end" fill="#2b2b2b" >C6</text>
<text x="103.7" y="352.69" font-size="8" text-anchor="end" fill="#2b2b2b" >C1</text>
<text x="103.7" y="367.23" font-size="8" text-anchor="end" fill="#2b2b2b" >C11</text>
<text x="103.7" y="381.77" font-size="8" text-anchor="end" fill="#2b2b2b" >C4</text>
<text x="103.7" y="396.31" font-size="8" text-anchor="end" fill="#2b2b2b" >C9</text>
<text x="103.7" y="410.85" font-size="8" text-anchor="end" fill="#2b2b2b" >C7</text>
<text x="103.7" y="425.39" font-size="8" text-anchor="end" fill="#2b2b2b" >C12</text>
<text x="103.7" y="439.93" font-size="8" text-anchor="end" fill="#2b2b2b" >C2</text>
<text x="103.7" y="454.47" font-size="8" text-anchor="end" fill="#2b2b2b" >C10</text>
<text x="103.7" y="469.01" font-size="8" text-anchor="end" fill="#2b2b2b" >C5</text>
<circle cx="112.3" cy="305.07" r="1" fill="#f8d249" stroke="#a1882f" stroke-width="0.7"/>
<circle cx="126" cy="305.07" r="1.5" fill="#f7ca2d" stroke="#a1831d" stroke-width="0.7"/>
<circle cx="139.7" cy="305.07" r="1" fill="#fcf5e4" stroke="#c5bfb2" stroke-width="0.7"/>
<circle cx="153.4" cy="305.07" r="0.8" fill="#fdfaf4" stroke="#c5c3be" stroke-width="0.7"/>
<circle cx="167.1" cy="305.07" r="2" fill="#fcf5e4" stroke="#d1cbbd" stroke-width="0.75"/>
<circle cx="180.8" cy="305.07" r="1.3" fill="#f08d39" stroke="#9c5c25" stroke-width="0.7"/>
<circle cx="194.5" cy="305.07" r="0.8" fill="#fdfaf4" stroke="#c5c3be" stroke-width="0.7"/>
<circle cx="208.2" cy="305.07" r="1" fill="#ec4228" stroke="#992b1a" stroke-width="0.7"/>
<circle cx="221.9" cy="305.07" r="2.5" fill="#fefcf8" stroke="#d3d1ce" stroke-width="0.75"/>
<circle cx="235.6" cy="305.07" r="2.5" fill="#fefcf8" stroke="#d3d1ce" stroke-width="0.75"/>
<circle cx="249.3" cy="305.07" r="4" fill="#f5b820" stroke="#b88a18" stroke-width="0.75"/>
<circle cx="263" cy="305.07" r="5.5" fill="#ec472b" stroke="#b13520" stroke-width="0.75"/>
<circle cx="276.7" cy="305.07" r="2" fill="#fdfaf4" stroke="#d2d0cb" stroke-width="0.75"/>
<circle cx="290.4" cy="305.07" r="5.5" fill="#ef823f" stroke="#b3622f" stroke-width="0.75"/>
<circle cx="112.3" cy="319.61" r="0.8" fill="#fcf5e4" stroke="#c5bfb2" stroke-width="0.7"/>
<circle cx="126" cy="319.61" r="1.8" fill="#f8d249" stroke="#a1882f" stroke-width="0.7"/>
<circle cx="139.7" cy="319.61" r="1" fill="#fdfaf4" stroke="#c5c3be" stroke-width="0.7"/>
<circle cx="153.4" cy="319.61" r="0.6" fill="#fdfaf4" stroke="#c5c3be" stroke-width="0.7"/>
<circle cx="167.1" cy="319.61" r="1.2" fill="#fcf5e4" stroke="#c5bfb2" stroke-width="0.7"/>
<circle cx="180.8" cy="319.61" r="1.5" fill="#f5b820" stroke="#9f7815" stroke-width="0.7"/>
<circle cx="194.5" cy="319.61" r="0.6" fill="#fdfaf4" stroke="#c5c3be" stroke-width="0.7"/>
<circle cx="208.2" cy="319.61" r="0.6" fill="#fdfaf4" stroke="#c5c3be" stroke-width="0.7"/>
<circle cx="221.9" cy="319.61" r="2.5" fill="#fefcf8" stroke="#d3d1ce" stroke-width="0.75"/>
<circle cx="235.6" cy="319.61" r="2.5" fill="#fefdfb" stroke="#d3d2d0" stroke-width="0.75"/>
<circle cx="249.3" cy="319.61" r="4.5" fill="#ed7342" stroke="#b25632" stroke-width="0.75"/>
<circle cx="263" cy="319.61" r="5.5" fill="#f09137" stroke="#b46d29" stroke-width="0.75"/>
<circle cx="276.7" cy="319.61" r="1" fill="#fdfaf4" stroke="#c5c3be" stroke-width="0.7"/>
<circle cx="290.4" cy="319.61" r="2.8" fill="#fbeecd" stroke="#d0c6aa" stroke-width="0.75"/>
<circle cx="112.3" cy="334.15" r="1.3" fill="#fdfaf4" stroke="#c5c3be" stroke-width="0.7"/>
<circle cx="126" cy="334.15" r="1.3" fill="#f9db72" stroke="#a28e4a" stroke-width="0.7"/>
<circle cx="153.4" cy="334.15" r="0.6" fill="#fdfaf4" stroke="#c5c3be" stroke-width="0.7"/>
<circle cx="167.1" cy="334.15" r="2.2" fill="#f8d249" stroke="#ba9e37" stroke-width="0.75"/>
<circle cx="180.8" cy="334.15" r="2" fill="#f6c127" stroke="#b8911d" stroke-width="0.75"/>
<circle cx="194.5" cy="334.15" r="1" fill="#fdfaf4" stroke="#c5c3be" stroke-width="0.7"/>
<circle cx="208.2" cy="334.15" r="0.6" fill="#fdfaf4" stroke="#c5c3be" stroke-width="0.7"/>
<circle cx="221.9" cy="334.15" r="4.8" fill="#f29e30" stroke="#b67624" stroke-width="0.75"/>
<circle cx="235.6" cy="334.15" r="4.8" fill="#ed7741" stroke="#b25931" stroke-width="0.75"/>
<circle cx="249.3" cy="334.15" r="5" fill="#ec4228" stroke="#b1321e" stroke-width="0.75"/>
<circle cx="263" cy="334.15" r="5.3" fill="#f09137" stroke="#b46d29" stroke-width="0.75"/>
<circle cx="276.7" cy="334.15" r="1.5" fill="#fdfaf4" stroke="#c5c3be" stroke-width="0.7"/>
<circle cx="290.4" cy="334.15" r="2.3" fill="#fbeecd" stroke="#d0c6aa" stroke-width="0.75"/>
<circle cx="112.3" cy="348.69" r="1" fill="#fdfaf4" stroke="#c5c3be" stroke-width="0.7"/>
<circle cx="126" cy="348.69" r="1.2" fill="#fcf5e4" stroke="#c5bfb2" stroke-width="0.7"/>
<circle cx="139.7" cy="348.69" r="1" fill="#fdfaf4" stroke="#c5c3be" stroke-width="0.7"/>
<circle cx="153.4" cy="348.69" r="0.6" fill="#fdfaf4" stroke="#c5c3be" stroke-width="0.7"/>
<circle cx="167.1" cy="348.69" r="2.2" fill="#fdfaf4" stroke="#d2d0cb" stroke-width="0.75"/>
<circle cx="180.8" cy="348.69" r="1.5" fill="#fcf5e4" stroke="#c5bfb2" stroke-width="0.7"/>
<circle cx="194.5" cy="348.69" r="1" fill="#fdfaf4" stroke="#c5c3be" stroke-width="0.7"/>
<circle cx="208.2" cy="348.69" r="0.6" fill="#fdfaf4" stroke="#c5c3be" stroke-width="0.7"/>
<circle cx="221.9" cy="348.69" r="5.5" fill="#f0883c" stroke="#b4662d" stroke-width="0.75"/>
<circle cx="235.6" cy="348.69" r="3.8" fill="#fbe8af" stroke="#d0c191" stroke-width="0.75"/>
<circle cx="249.3" cy="348.69" r="3.5" fill="#fcf5e4" stroke="#d1cbbd" stroke-width="0.75"/>
<circle cx="263" cy="348.69" r="5.3" fill="#f6c127" stroke="#b8911d" stroke-width="0.75"/>
<circle cx="276.7" cy="348.69" r="1.5" fill="#fdfaf4" stroke="#c5c3be" stroke-width="0.7"/>
<circle cx="290.4" cy="348.69" r="3" fill="#fbebbe" stroke="#d0c39e" stroke-width="0.75"/>
<circle cx="112.3" cy="363.23" r="1.5" fill="#fdfaf4" stroke="#c5c3be" stroke-width="0.7"/>
<circle cx="126" cy="363.23" r="1" fill="#fdfaf4" stroke="#c5c3be" stroke-width="0.7"/>
<circle cx="139.7" cy="363.23" r="1" fill="#fdfaf4" stroke="#c5c3be" stroke-width="0.7"/>
<circle cx="153.4" cy="363.23" r="1" fill="#fcf5e4" stroke="#c5bfb2" stroke-width="0.7"/>
<circle cx="167.1" cy="363.23" r="5.3" fill="#ec3621" stroke="#b12819" stroke-width="0.75"/>
<circle cx="180.8" cy="363.23" r="3.5" fill="#ec3621" stroke="#b12819" stroke-width="0.75"/>
<circle cx="194.5" cy="363.23" r="1" fill="#fdfaf4" stroke="#c5c3be" stroke-width="0.7"/>
<circle cx="208.2" cy="363.23" r="0.6" fill="#fdfaf4" stroke="#c5c3be" stroke-width="0.7"/>
<circle cx="221.9" cy="363.23" r="5.5" fill="#ec3621" stroke="#b12819" stroke-width="0.75"/>
<circle cx="235.6" cy="363.23" r="3" fill="#fbe8af" stroke="#d0c191" stroke-width="0.75"/>
<circle cx="249.3" cy="363.23" r="2.3" fill="#fefcf8" stroke="#d3d1ce" stroke-width="0.75"/>
<circle cx="263" cy="363.23" r="5.5" fill="#ec4a2d" stroke="#b13822" stroke-width="0.75"/>
<circle cx="276.7" cy="363.23" r="3.8" fill="#ed7342" stroke="#b25632" stroke-width="0.75"/>
<circle cx="290.4" cy="363.23" r="3" fill="#fbebbe" stroke="#d0c39e" stroke-width="0.75"/>
<circle cx="112.3" cy="377.77" r="1" fill="#fdfaf4" stroke="#c5c3be" stroke-width="0.7"/>
<circle cx="126" cy="377.77" r="1.3" fill="#f7ca2d" stroke="#a1831d" stroke-width="0.7"/>
<circle cx="139.7" cy="377.77" r="1.5" fill="#fdfaf4" stroke="#c5c3be" stroke-width="0.7"/>
<circle cx="153.4" cy="377.77" r="1" fill="#fdfaf4" stroke="#c5c3be" stroke-width="0.7"/>
<circle cx="167.1" cy="377.77" r="4" fill="#ec5d3a" stroke="#b1462c" stroke-width="0.75"/>
<circle cx="180.8" cy="377.77" r="1.3" fill="#fcf5e4" stroke="#c5bfb2" stroke-width="0.7"/>
<circle cx="194.5" cy="377.77" r="1" fill="#fdfaf4" stroke="#c5c3be" stroke-width="0.7"/>
<circle cx="208.2" cy="377.77" r="0.6" fill="#fdfaf4" stroke="#c5c3be" stroke-width="0.7"/>
<circle cx="221.9" cy="377.77" r="5.3" fill="#ee803f" stroke="#b2602f" stroke-width="0.75"/>
<circle cx="235.6" cy="377.77" r="3" fill="#fbeecd" stroke="#d0c6aa" stroke-width="0.75"/>
<circle cx="249.3" cy="377.77" r="3" fill="#f9d761" stroke="#bba149" stroke-width="0.75"/>
<circle cx="263" cy="377.77" r="5.5" fill="#ec633e" stroke="#b14a2e" stroke-width="0.75"/>
<circle cx="276.7" cy="377.77" r="3.2" fill="#f4b423" stroke="#b7871a" stroke-width="0.75"/>
<circle cx="290.4" cy="377.77" r="5.5" fill="#ed7342" stroke="#b25632" stroke-width="0.75"/>
<circle cx="112.3" cy="392.31" r="0.6" fill="#fdfaf4" stroke="#c5c3be" stroke-width="0.7"/>
<circle cx="126" cy="392.31" r="2.5" fill="#ec6c44" stroke="#b15133" stroke-width="0.75"/>
<circle cx="139.7" cy="392.31" r="2.2" fill="#f7cd30" stroke="#b99a24" stroke-width="0.75"/>
<circle cx="153.4" cy="392.31" r="1" fill="#ec3621" stroke="#992315" stroke-width="0.7"/>
<circle cx="167.1" cy="392.31" r="3.3" fill="#f5b820" stroke="#b88a18" stroke-width="0.75"/>
<circle cx="180.8" cy="392.31" r="1" fill="#ec3621" stroke="#992315" stroke-width="0.7"/>
<circle cx="194.5" cy="392.31" r="1" fill="#ec3621" stroke="#992315" stroke-width="0.7"/>
<circle cx="208.2" cy="392.31" r="1.5" fill="#f08d39" stroke="#9c5c25" stroke-width="0.7"/>
<circle cx="221.9" cy="392.31" r="2.3" fill="#fdfaf4" stroke="#d2d0cb" stroke-width="0.75"/>
<circle cx="235.6" cy="392.31" r="2.3" fill="#fefcf8" stroke="#d3d1ce" stroke-width="0.75"/>
<circle cx="249.3" cy="392.31" r="3.5" fill="#f8d249" stroke="#ba9e37" stroke-width="0.75"/>
<circle cx="263" cy="392.31" r="5.3" fill="#ec3420" stroke="#b12718" stroke-width="0.75"/>
<circle cx="276.7" cy="392.31" r="5.5" fill="#ec3621" stroke="#b12819" stroke-width="0.75"/>
<circle cx="290.4" cy="392.31" r="5.5" fill="#ec3420" stroke="#b12718" stroke-width="0.75"/>
<circle cx="112.3" cy="406.85" r="1" fill="#f8d249" stroke="#a1882f" stroke-width="0.7"/>
<circle cx="126" cy="406.85" r="1.5" fill="#f6c127" stroke="#a07d19" stroke-width="0.7"/>
<circle cx="139.7" cy="406.85" r="1.5" fill="#fdfaf4" stroke="#c5c3be" stroke-width="0.7"/>
<circle cx="153.4" cy="406.85" r="1" fill="#f5b820" stroke="#9f7815" stroke-width="0.7"/>
<circle cx="167.1" cy="406.85" r="2" fill="#fcf5e4" stroke="#d1cbbd" stroke-width="0.75"/>
<circle cx="180.8" cy="406.85" r="1.3" fill="#f19834" stroke="#9d6322" stroke-width="0.7"/>
<circle cx="194.5" cy="406.85" r="0.8" fill="#fcf5e4" stroke="#c5bfb2" stroke-width="0.7"/>
<circle cx="208.2" cy="406.85" r="1.3" fill="#f08d39" stroke="#9c5c25" stroke-width="0.7"/>
<circle cx="221.9" cy="406.85" r="2.3" fill="#fdfaf4" stroke="#d2d0cb" stroke-width="0.75"/>
<circle cx="235.6" cy="406.85" r="2.3" fill="#fefcf8" stroke="#d3d1ce" stroke-width="0.75"/>
<circle cx="249.3" cy="406.85" r="4" fill="#f4b423" stroke="#b7871a" stroke-width="0.75"/>
<circle cx="263" cy="406.85" r="5.5" fill="#ed7342" stroke="#b25632" stroke-width="0.75"/>
<circle cx="276.7" cy="406.85" r="5.5" fill="#ed7342" stroke="#b25632" stroke-width="0.75"/>
<circle cx="290.4" cy="406.85" r="4" fill="#fae398" stroke="#bcaa72" stroke-width="0.75"/>
<circle cx="112.3" cy="421.39" r="5.5" fill="#ec3621" stroke="#b12819" stroke-width="0.75"/>
<circle cx="126" cy="421.39" r="5.3" fill="#ec3621" stroke="#b12819" stroke-width="0.75"/>
<circle cx="139.7" cy="421.39" r="4.5" fill="#ec3420" stroke="#b12718" stroke-width="0.75"/>
<circle cx="153.4" cy="421.39" r="4.5" fill="#ec633e" stroke="#b14a2e" stroke-width="0.75"/>
<circle cx="167.1" cy="421.39" r="2.3" fill="#f7cd30" stroke="#b99a24" stroke-width="0.75"/>
<circle cx="180.8" cy="421.39" r="1" fill="#fdfaf4" stroke="#c5c3be" stroke-width="0.7"/>
<circle cx="194.5" cy="421.39" r="3.3" fill="#ef823f" stroke="#b3622f" stroke-width="0.75"/>
<circle cx="208.2" cy="421.39" r="0.6" fill="#fdfaf4" stroke="#c5c3be" stroke-width="0.7"/>
<circle cx="221.9" cy="421.39" r="0.6" fill="#fdfaf4" stroke="#c5c3be" stroke-width="0.7"/>
<circle cx="235.6" cy="421.39" r="2" fill="#fdfaf4" stroke="#d2d0cb" stroke-width="0.75"/>
<circle cx="249.3" cy="421.39" r="2" fill="#fdfaf4" stroke="#d2d0cb" stroke-width="0.75"/>
<circle cx="263" cy="421.39" r="4" fill="#fcf3dd" stroke="#d1cab7" stroke-width="0.75"/>
<circle cx="276.7" cy="421.39" r="3.8" fill="#ec633e" stroke="#b14a2e" stroke-width="0.75"/>
<circle cx="290.4" cy="421.39" r="3.8" fill="#fae398" stroke="#bcaa72" stroke-width="0.75"/>
<circle cx="112.3" cy="435.93" r="1" fill="#fdfaf4" stroke="#c5c3be" stroke-width="0.7"/>
<circle cx="126" cy="435.93" r="5.3" fill="#ec633e" stroke="#b14a2e" stroke-width="0.75"/>
<circle cx="139.7" cy="435.93" r="4.5" fill="#ec3621" stroke="#b12819" stroke-width="0.75"/>
<circle cx="153.4" cy="435.93" r="4.3" fill="#ec3621" stroke="#b12819" stroke-width="0.75"/>
<circle cx="167.1" cy="435.93" r="2" fill="#fdfaf4" stroke="#d2d0cb" stroke-width="0.75"/>
<circle cx="180.8" cy="435.93" r="1" fill="#fdfaf4" stroke="#c5c3be" stroke-width="0.7"/>
<circle cx="194.5" cy="435.93" r="1.8" fill="#f4ad27" stroke="#9f7019" stroke-width="0.7"/>
<circle cx="208.2" cy="435.93" r="0.6" fill="#fdfaf4" stroke="#c5c3be" stroke-width="0.7"/>
<circle cx="221.9" cy="435.93" r="0.6" fill="#fdfaf4" stroke="#c5c3be" stroke-width="0.7"/>
<circle cx="235.6" cy="435.93" r="2" fill="#fdfaf4" stroke="#d2d0cb" stroke-width="0.75"/>
<circle cx="249.3" cy="435.93" r="2.5" fill="#fdfaf4" stroke="#d2d0cb" stroke-width="0.75"/>
<circle cx="263" cy="435.93" r="4.8" fill="#fae398" stroke="#bcaa72" stroke-width="0.75"/>
<circle cx="276.7" cy="435.93" r="3.5" fill="#f19834" stroke="#b57227" stroke-width="0.75"/>
<circle cx="290.4" cy="435.93" r="5" fill="#f6c127" stroke="#b8911d" stroke-width="0.75"/>
<circle cx="112.3" cy="450.47" r="4.8" fill="#ec3621" stroke="#b12819" stroke-width="0.75"/>
<circle cx="126" cy="450.47" r="0.6" fill="#fdfaf4" stroke="#c5c3be" stroke-width="0.7"/>
<circle cx="139.7" cy="450.47" r="0.6" fill="#fdfaf4" stroke="#c5c3be" stroke-width="0.7"/>
<circle cx="153.4" cy="450.47" r="0.6" fill="#fdfaf4" stroke="#c5c3be" stroke-width="0.7"/>
<circle cx="167.1" cy="450.47" r="0.6" fill="#fdfaf4" stroke="#c5c3be" stroke-width="0.7"/>
<circle cx="180.8" cy="450.47" r="0.6" fill="#fdfaf4" stroke="#c5c3be" stroke-width="0.7"/>
<circle cx="194.5" cy="450.47" r="0.6" fill="#fdfaf4" stroke="#c5c3be" stroke-width="0.7"/>
<circle cx="221.9" cy="450.47" r="4.3" fill="#f5bc23" stroke="#b88d1a" stroke-width="0.75"/>
<circle cx="235.6" cy="450.47" r="5.5" fill="#ec3420" stroke="#b12718" stroke-width="0.75"/>
<circle cx="249.3" cy="450.47" r="5.5" fill="#ec3621" stroke="#b12819" stroke-width="0.75"/>
<circle cx="263" cy="450.47" r="2" fill="#fefcf8" stroke="#d3d1ce" stroke-width="0.75"/>
<circle cx="276.7" cy="450.47" r="0.8" fill="#fdfaf4" stroke="#c5c3be" stroke-width="0.7"/>
<circle cx="290.4" cy="450.47" r="0.8" fill="#fdfaf4" stroke="#c5c3be" stroke-width="0.7"/>
<circle cx="112.3" cy="465.01" r="5" fill="#ec3621" stroke="#b12819" stroke-width="0.75"/>
<circle cx="126" cy="465.01" r="0.6" fill="#fdfaf4" stroke="#c5c3be" stroke-width="0.7"/>
<circle cx="139.7" cy="465.01" r="0.6" fill="#fdfaf4" stroke="#c5c3be" stroke-width="0.7"/>
<circle cx="153.4" cy="465.01" r="0.6" fill="#fdfaf4" stroke="#c5c3be" stroke-width="0.7"/>
<circle cx="167.1" cy="465.01" r="1.3" fill="#fcf5e4" stroke="#c5bfb2" stroke-width="0.7"/>
<circle cx="180.8" cy="465.01" r="2.3" fill="#f6c127" stroke="#b8911d" stroke-width="0.75"/>
<circle cx="194.5" cy="465.01" r="0.6" fill="#fdfaf4" stroke="#c5c3be" stroke-width="0.7"/>
<circle cx="208.2" cy="465.01" r="0.6" fill="#fdfaf4" stroke="#c5c3be" stroke-width="0.7"/>
<circle cx="221.9" cy="465.01" r="5" fill="#f6c62b" stroke="#b89420" stroke-width="0.75"/>
<circle cx="235.6" cy="465.01" r="5" fill="#f7ca2d" stroke="#b99822" stroke-width="0.75"/>
<circle cx="249.3" cy="465.01" r="4" fill="#fbeecd" stroke="#d0c6aa" stroke-width="0.75"/>
<circle cx="263" cy="465.01" r="3" fill="#fbeecd" stroke="#d0c6aa" stroke-width="0.75"/>
<circle cx="276.7" cy="465.01" r="1" fill="#fdfaf4" stroke="#c5c3be" stroke-width="0.7"/>
<circle cx="290.4" cy="465.01" r="0.8" fill="#fdfaf4" stroke="#c5c3be" stroke-width="0.7"/>
<text transform="translate(116.4,479.2) rotate(-45)" font-size="8.2" text-anchor="end" fill="#2b2b2b">CD45RA</text>
<text transform="translate(131.1,479.2) rotate(-45)" font-size="8.2" text-anchor="end" fill="#2b2b2b">T-bet</text>
<text transform="translate(143.8,479.2) rotate(-45)" font-size="8.2" text-anchor="end" fill="#2b2b2b">CD57</text>
<text transform="translate(158.8,479.2) rotate(-45)" font-size="8.2" text-anchor="end" fill="#2b2b2b">CX<tspan font-size="5" dy="1.5">3</tspan><tspan dy="-1.5">CR1</tspan></text>
<text transform="translate(172.2,479.2) rotate(-45)" font-size="8.2" text-anchor="end" fill="#2b2b2b">TIGIT</text>
<text transform="translate(187.4,479.2) rotate(-45)" font-size="8.2" text-anchor="end" fill="#2b2b2b">CD25</text>
<text transform="translate(201,479.2) rotate(-45)" font-size="8.2" text-anchor="end" fill="#2b2b2b">2B4</text>
<text transform="translate(215.6,479.2) rotate(-45)" font-size="8.2" text-anchor="end" fill="#2b2b2b">Ki-67</text>
<text transform="translate(228.8,479.2) rotate(-45)" font-size="8.2" text-anchor="end" fill="#2b2b2b">CD27</text>
<text transform="translate(240.4,479.2) rotate(-45)" font-size="8.2" text-anchor="end" fill="#2b2b2b">CCR7</text>
<text transform="translate(257.2,479.2) rotate(-45)" font-size="8.2" text-anchor="end" fill="#2b2b2b">CD127</text>
<text transform="translate(268.1,479.2) rotate(-45)" font-size="8.2" text-anchor="end" fill="#2b2b2b">CD95</text>
<text transform="translate(288.9,479.2) rotate(-45)" font-size="8.2" text-anchor="end" fill="#2b2b2b">HLA-DR</text>
<text transform="translate(300.2,479.2) rotate(-45)" font-size="8.2" text-anchor="end" fill="#2b2b2b">PD-1</text>
<text x="298.8" y="308.2" font-size="7.7" text-anchor="start" fill="#2b2b2b" >PD-1<tspan font-size="4.6" dy="-3.2">hi</tspan><tspan dy="3.2"> </tspan>T<tspan font-size="4.9" dy="2.2">EM</tspan></text>
<text x="298.8" y="323" font-size="7.7" text-anchor="start" fill="#2b2b2b" >PD-1<tspan font-size="4.6" dy="-3.2">lo</tspan><tspan dy="3.2"> </tspan>T<tspan font-size="4.9" dy="2.2">EM</tspan></text>
<text x="298.8" y="335.8" font-size="7.7" text-anchor="start" fill="#2b2b2b" >T<tspan font-size="4.9" dy="2.2">CM</tspan></text>
<text x="298.8" y="350.6" font-size="7.7" text-anchor="start" fill="#2b2b2b" >T<tspan font-size="4.9" dy="2.2">TM</tspan></text>
<text x="298.8" y="365.4" font-size="7.7" text-anchor="start" fill="#2b2b2b" >T<tspan font-size="4.9" dy="2.2">REG</tspan></text>
<text x="298.8" y="380.8" font-size="7.7" text-anchor="start" fill="#2b2b2b" >TIGIT<tspan font-size="4.6" dy="-3.2">hi</tspan><tspan dy="3.2"> </tspan>T<tspan font-size="4.9" dy="2.2">TM</tspan></text>
<line x1="298.8" y1="392.1" x2="298.8" y2="406.9" stroke="#222" stroke-width="1.1"/>
<text x="301.5" y="401.5" font-size="7.7" text-anchor="start" fill="#2b2b2b" >Act</text>
<line x1="298.8" y1="422" x2="298.8" y2="436.5" stroke="#222" stroke-width="1.1"/>
<text x="301.5" y="431.1" font-size="7.7" text-anchor="start" fill="#2b2b2b" >T<tspan font-size="4.9" dy="2.2">TE</tspan></text>
<line x1="298.8" y1="452" x2="298.8" y2="465.5" stroke="#222" stroke-width="1.1"/>
<text x="301.5" y="460.8" font-size="7.7" text-anchor="start" fill="#2b2b2b" >T<tspan font-size="4.9" dy="2.2">N</tspan></text>
<text transform="translate(19.8,332.5) rotate(-90)" font-size="7.7" text-anchor="middle" fill="#2b2b2b" dy="0.35em">Marker</text>
<text transform="translate(29.8,332.5) rotate(-90)" font-size="7.7" text-anchor="middle" fill="#2b2b2b" dy="0.35em">Freq (%)</text>
<circle cx="42.3" cy="324.6" r="4.75" fill="none" stroke="#2b2b2b" stroke-width="0.75"/>
<text x="49" y="327.4" font-size="7.7" text-anchor="start" fill="#2b2b2b" >75</text>
<circle cx="42.3" cy="336.7" r="3.9" fill="none" stroke="#2b2b2b" stroke-width="0.75"/>
<text x="49" y="339.5" font-size="7.7" text-anchor="start" fill="#2b2b2b" >50</text>
<circle cx="42.3" cy="347.9" r="2.7" fill="none" stroke="#2b2b2b" stroke-width="0.75"/>
<text x="49" y="350.7" font-size="7.7" text-anchor="start" fill="#2b2b2b" >25</text>
<text transform="translate(20,409) rotate(-90)" font-size="7.7" text-anchor="middle" fill="#2b2b2b" dy="0.35em">Scaled</text>
<text transform="translate(30,408.8) rotate(-90)" font-size="7.7" text-anchor="middle" fill="#2b2b2b" dy="0.35em">marker MFI</text>
<defs><linearGradient id="dg3" x1="0" y1="1" x2="0" y2="0"><stop offset="0.000" stop-color="#fffaf0"/><stop offset="0.100" stop-color="#fcecb0"/><stop offset="0.250" stop-color="#f9d640"/><stop offset="0.400" stop-color="#f7be1c"/><stop offset="0.500" stop-color="#f5a82c"/><stop offset="0.620" stop-color="#f08a40"/><stop offset="0.750" stop-color="#ec6a44"/><stop offset="0.850" stop-color="#e44a30"/><stop offset="1.000" stop-color="#da2e20"/></linearGradient></defs>
<rect x="36.9" y="386.2" width="9.3" height="43.8" fill="url(#dg3)"/>
<text x="49.2" y="390.5" font-size="7.7" text-anchor="start" fill="#2b2b2b" >100</text>
<text x="49.2" y="401.7" font-size="7.7" text-anchor="start" fill="#2b2b2b" >75</text>
<text x="49.2" y="412.8" font-size="7.7" text-anchor="start" fill="#2b2b2b" >50</text>
<text x="49.2" y="423.6" font-size="7.7" text-anchor="start" fill="#2b2b2b" >25</text>
<text x="49.2" y="435.6" font-size="7.7" text-anchor="start" fill="#2b2b2b" >0</text>
<line x1="36.9" y1="398.9" x2="38.9" y2="398.9" stroke="#fff" stroke-width="0.6"/>
<line x1="44.2" y1="398.9" x2="46.2" y2="398.9" stroke="#fff" stroke-width="0.6"/>
<line x1="36.9" y1="410" x2="38.9" y2="410" stroke="#fff" stroke-width="0.6"/>
<line x1="44.2" y1="410" x2="46.2" y2="410" stroke="#fff" stroke-width="0.6"/>
<line x1="36.9" y1="420.8" x2="38.9" y2="420.8" stroke="#fff" stroke-width="0.6"/>
<line x1="44.2" y1="420.8" x2="46.2" y2="420.8" stroke="#fff" stroke-width="0.6"/>
<rect x="347.8" y="297.8" width="13.84" height="15.14" fill="#5a2594"/>
<rect x="361.04" y="297.8" width="13.84" height="15.14" fill="#5a2594"/>
<rect x="374.28" y="297.8" width="13.84" height="15.14" fill="#922a97"/>
<rect x="387.52" y="297.8" width="13.84" height="15.14" fill="#8e2a98"/>
<rect x="400.76" y="297.8" width="13.84" height="15.14" fill="#8e2a98"/>
<rect x="414" y="297.8" width="13.84" height="15.14" fill="#a22e95"/>
<rect x="427.24" y="297.8" width="13.24" height="15.14" fill="#a83094"/>
<rect x="443.2" y="297.8" width="13.4" height="15.14" fill="#472690"/>
<rect x="456" y="297.8" width="12.8" height="15.14" fill="#5a2594"/>
<rect x="347.8" y="312.34" width="13.84" height="15.14" fill="#922a97"/>
<rect x="361.04" y="312.34" width="13.84" height="15.14" fill="#832a98"/>
<rect x="374.28" y="312.34" width="13.84" height="15.14" fill="#8e2a98"/>
<rect x="387.52" y="312.34" width="13.84" height="15.14" fill="#9c2c96"/>
<rect x="400.76" y="312.34" width="13.84" height="15.14" fill="#9c2c96"/>
<rect x="414" y="312.34" width="13.84" height="15.14" fill="#d84492"/>
<rect x="427.24" y="312.34" width="13.24" height="15.14" fill="#c84096"/>
<rect x="443.2" y="312.34" width="13.4" height="15.14" fill="#f8e818"/>
<rect x="456" y="312.34" width="12.8" height="15.14" fill="#f5a020"/>
<rect x="347.8" y="326.88" width="13.84" height="15.14" fill="#a22e95"/>
<rect x="361.04" y="326.88" width="13.84" height="15.14" fill="#b03594"/>
<rect x="374.28" y="326.88" width="13.84" height="15.14" fill="#9c2c96"/>
<rect x="387.52" y="326.88" width="13.84" height="15.14" fill="#c84096"/>
<rect x="400.76" y="326.88" width="13.84" height="15.14" fill="#5a2594"/>
<rect x="414" y="326.88" width="13.84" height="15.14" fill="#5a2594"/>
<rect x="427.24" y="326.88" width="13.24" height="15.14" fill="#6a2796"/>
<rect x="443.2" y="326.88" width="13.4" height="15.14" fill="#f07078"/>
<rect x="456" y="326.88" width="12.8" height="15.14" fill="#ee5090"/>
<rect x="347.8" y="341.42" width="13.84" height="15.14" fill="#f0687c"/>
<rect x="361.04" y="341.42" width="13.84" height="15.14" fill="#f07478"/>
<rect x="374.28" y="341.42" width="13.84" height="15.14" fill="#ee5090"/>
<rect x="387.52" y="341.42" width="13.84" height="15.14" fill="#ee5090"/>
<rect x="400.76" y="341.42" width="13.84" height="15.14" fill="#ee5a88"/>
<rect x="414" y="341.42" width="13.84" height="15.14" fill="#ee6a80"/>
<rect x="427.24" y="341.42" width="13.24" height="15.14" fill="#c84096"/>
<rect x="443.2" y="341.42" width="13.4" height="15.14" fill="#ee5090"/>
<rect x="456" y="341.42" width="12.8" height="15.14" fill="#a22e95"/>
<rect x="347.8" y="355.96" width="13.84" height="15.14" fill="#a22e95"/>
<rect x="361.04" y="355.96" width="13.84" height="15.14" fill="#d04294"/>
<rect x="374.28" y="355.96" width="13.84" height="15.14" fill="#6a2796"/>
<rect x="387.52" y="355.96" width="13.84" height="15.14" fill="#5a2594"/>
<rect x="400.76" y="355.96" width="13.84" height="15.14" fill="#5a2594"/>
<rect x="414" y="355.96" width="13.84" height="15.14" fill="#5a2594"/>
<rect x="427.24" y="355.96" width="13.24" height="15.14" fill="#5a2594"/>
<rect x="443.2" y="355.96" width="13.4" height="15.14" fill="#312a8b"/>
<rect x="456" y="355.96" width="12.8" height="15.14" fill="#312a8b"/>
<rect x="347.8" y="370.5" width="13.84" height="15.14" fill="#f0707a"/>
<rect x="361.04" y="370.5" width="13.84" height="15.14" fill="#f0707a"/>
<rect x="374.28" y="370.5" width="13.84" height="15.14" fill="#e44c90"/>
<rect x="387.52" y="370.5" width="13.84" height="15.14" fill="#f07078"/>
<rect x="400.76" y="370.5" width="13.84" height="15.14" fill="#f08070"/>
<rect x="414" y="370.5" width="13.84" height="15.14" fill="#f07078"/>
<rect x="427.24" y="370.5" width="13.24" height="15.14" fill="#ee5a88"/>
<rect x="443.2" y="370.5" width="13.4" height="15.14" fill="#472690"/>
<rect x="456" y="370.5" width="12.8" height="15.14" fill="#472690"/>
<rect x="347.8" y="385.04" width="13.84" height="15.14" fill="#6a2796"/>
<rect x="361.04" y="385.04" width="13.84" height="15.14" fill="#6a2796"/>
<rect x="374.28" y="385.04" width="13.84" height="15.14" fill="#6e2796"/>
<rect x="387.52" y="385.04" width="13.84" height="15.14" fill="#6e2796"/>
<rect x="400.76" y="385.04" width="13.84" height="15.14" fill="#6e2796"/>
<rect x="414" y="385.04" width="13.84" height="15.14" fill="#6a2796"/>
<rect x="427.24" y="385.04" width="13.24" height="15.14" fill="#5a2594"/>
<rect x="443.2" y="385.04" width="13.4" height="15.14" fill="#312a8b"/>
<rect x="456" y="385.04" width="12.8" height="15.14" fill="#312a8b"/>
<rect x="347.8" y="399.58" width="13.84" height="15.14" fill="#832a98"/>
<rect x="361.04" y="399.58" width="13.84" height="15.14" fill="#c84096"/>
<rect x="374.28" y="399.58" width="13.84" height="15.14" fill="#ee5090"/>
<rect x="387.52" y="399.58" width="13.84" height="15.14" fill="#c84096"/>
<rect x="400.76" y="399.58" width="13.84" height="15.14" fill="#ee5090"/>
<rect x="414" y="399.58" width="13.84" height="15.14" fill="#e44c90"/>
<rect x="427.24" y="399.58" width="13.24" height="15.14" fill="#c03c96"/>
<rect x="443.2" y="399.58" width="13.4" height="15.14" fill="#472690"/>
<rect x="456" y="399.58" width="12.8" height="15.14" fill="#472690"/>
<rect x="347.8" y="414.12" width="13.84" height="15.14" fill="#312a8b"/>
<rect x="361.04" y="414.12" width="13.84" height="15.14" fill="#2a2c88"/>
<rect x="374.28" y="414.12" width="13.84" height="15.14" fill="#2a2c88"/>
<rect x="387.52" y="414.12" width="13.84" height="15.14" fill="#2a2c88"/>
<rect x="400.76" y="414.12" width="13.84" height="15.14" fill="#2a2c88"/>
<rect x="414" y="414.12" width="13.84" height="15.14" fill="#2a2c88"/>
<rect x="427.24" y="414.12" width="13.24" height="15.14" fill="#2a2c88"/>
<rect x="443.2" y="414.12" width="13.4" height="15.14" fill="#312a8b"/>
<rect x="456" y="414.12" width="12.8" height="15.14" fill="#312a8b"/>
<rect x="347.8" y="428.66" width="13.84" height="15.14" fill="#5a2594"/>
<rect x="361.04" y="428.66" width="13.84" height="15.14" fill="#5a2594"/>
<rect x="374.28" y="428.66" width="13.84" height="15.14" fill="#a22e95"/>
<rect x="387.52" y="428.66" width="13.84" height="15.14" fill="#ee5090"/>
<rect x="400.76" y="428.66" width="13.84" height="15.14" fill="#f0607e"/>
<rect x="414" y="428.66" width="13.84" height="15.14" fill="#f06a80"/>
<rect x="427.24" y="428.66" width="13.24" height="15.14" fill="#f29040"/>
<rect x="443.2" y="428.66" width="13.4" height="15.14" fill="#312a8b"/>
<rect x="456" y="428.66" width="12.8" height="15.14" fill="#6a2796"/>
<rect x="347.8" y="443.2" width="13.84" height="15.14" fill="#832a98"/>
<rect x="361.04" y="443.2" width="13.84" height="15.14" fill="#312a8b"/>
<rect x="374.28" y="443.2" width="13.84" height="15.14" fill="#312a8b"/>
<rect x="387.52" y="443.2" width="13.84" height="15.14" fill="#312a8b"/>
<rect x="400.76" y="443.2" width="13.84" height="15.14" fill="#312a8b"/>
<rect x="414" y="443.2" width="13.84" height="15.14" fill="#312a8b"/>
<rect x="427.24" y="443.2" width="13.24" height="15.14" fill="#312a8b"/>
<rect x="443.2" y="443.2" width="13.4" height="15.14" fill="#f08070"/>
<rect x="456" y="443.2" width="12.8" height="15.14" fill="#f29050"/>
<rect x="347.8" y="457.74" width="13.84" height="14.54" fill="#a22e95"/>
<rect x="361.04" y="457.74" width="13.84" height="14.54" fill="#a22e95"/>
<rect x="374.28" y="457.74" width="13.84" height="14.54" fill="#5a2594"/>
<rect x="387.52" y="457.74" width="13.84" height="14.54" fill="#5a2594"/>
<rect x="400.76" y="457.74" width="13.84" height="14.54" fill="#5a2594"/>
<rect x="414" y="457.74" width="13.84" height="14.54" fill="#5a2594"/>
<rect x="427.24" y="457.74" width="13.24" height="14.54" fill="#6a2796"/>
<rect x="443.2" y="457.74" width="13.4" height="14.54" fill="#f06a80"/>
<rect x="456" y="457.74" width="12.8" height="14.54" fill="#f8c818"/>
<text transform="translate(357.9,483.8) rotate(-45)" font-size="7.7" text-anchor="end" fill="#2b2b2b">Baseline</text>
<text transform="translate(374,483.8) rotate(-45)" font-size="7.7" text-anchor="end" fill="#2b2b2b">T2</text>
<text transform="translate(387.5,483.8) rotate(-45)" font-size="7.7" text-anchor="end" fill="#2b2b2b">T3</text>
<text transform="translate(397.7,483.8) rotate(-45)" font-size="7.7" text-anchor="end" fill="#2b2b2b">T4</text>
<text transform="translate(411.4,483.8) rotate(-45)" font-size="7.7" text-anchor="end" fill="#2b2b2b">T5</text>
<text transform="translate(428.6,483.8) rotate(-45)" font-size="7.7" text-anchor="end" fill="#2b2b2b">T6</text>
<text transform="translate(441.4,483.8) rotate(-45)" font-size="7.7" text-anchor="end" fill="#2b2b2b">T7</text>
<text transform="translate(454,483.8) rotate(-45)" font-size="7.7" text-anchor="end" fill="#2b2b2b">Donor</text>
<text transform="translate(467,483.8) rotate(-45)" font-size="7.7" text-anchor="end" fill="#2b2b2b">HC</text>
<text transform="translate(480.1,385) rotate(-90)" font-size="8.0" text-anchor="middle" fill="#2b2b2b" dy="0.35em">Cluster frequency</text>
<text transform="translate(489.8,385.5) rotate(-90)" font-size="8.1" text-anchor="middle" fill="#2b2b2b" dy="0.35em">(% of CD4<tspan font-size="5.2" dy="-3">+</tspan><tspan dy="3"> T cells)</tspan></text>
<defs><linearGradient id="hg4" x1="0" y1="1" x2="0" y2="0"><stop offset="0.000" stop-color="#2a2290"/><stop offset="0.120" stop-color="#4a209e"/><stop offset="0.270" stop-color="#7a22a0"/><stop offset="0.420" stop-color="#b43098"/><stop offset="0.540" stop-color="#e04890"/><stop offset="0.620" stop-color="#e85a78"/><stop offset="0.720" stop-color="#f08048"/><stop offset="0.830" stop-color="#f6a824"/><stop offset="0.900" stop-color="#f8cc18"/><stop offset="1.000" stop-color="#f8e214"/></linearGradient></defs>
<rect x="497.2" y="361.8" width="9.1" height="46.1" fill="url(#hg4)"/>
<line x1="497.2" y1="371.3" x2="499.2" y2="371.3" stroke="#fff" stroke-width="0.7"/>
<line x1="504.3" y1="371.3" x2="506.3" y2="371.3" stroke="#fff" stroke-width="0.7"/>
<text x="508.9" y="374.1" font-size="7.7" text-anchor="start" fill="#2b2b2b" >20</text>
<line x1="497.2" y1="380.1" x2="499.2" y2="380.1" stroke="#fff" stroke-width="0.7"/>
<line x1="504.3" y1="380.1" x2="506.3" y2="380.1" stroke="#fff" stroke-width="0.7"/>
<text x="508.9" y="382.9" font-size="7.7" text-anchor="start" fill="#2b2b2b" >15</text>
<line x1="497.2" y1="389.4" x2="499.2" y2="389.4" stroke="#fff" stroke-width="0.7"/>
<line x1="504.3" y1="389.4" x2="506.3" y2="389.4" stroke="#fff" stroke-width="0.7"/>
<text x="508.9" y="392.2" font-size="7.7" text-anchor="start" fill="#2b2b2b" >10</text>
<line x1="497.2" y1="399.1" x2="499.2" y2="399.1" stroke="#fff" stroke-width="0.7"/>
<line x1="504.3" y1="399.1" x2="506.3" y2="399.1" stroke="#fff" stroke-width="0.7"/>
<text x="508.9" y="401.9" font-size="7.7" text-anchor="start" fill="#2b2b2b" >5</text>
</g>
<g id="panelC">
<text x="1" y="537.1" font-size="14.4" text-anchor="start" font-weight="bold" fill="#000" >C</text>
<text x="188.5" y="537.4" font-size="8" text-anchor="start" fill="#2b2b2b" >NK cells</text>
<path d="M176.45,554V552.6H189.28V554 M163.62,554V551.5H182.87V552.6 M137.96,554V551.5H150.79V554 M144.38,551.5V549.3H173.24V551.5 M125.13,554V548H158.81V549.3 M202.11,554V550.2H214.94V554 M240.6,554V553H253.43V554 M279.09,554V553.3H291.92V554 M266.26,554V552.5H285.5V553.3 M247.02,553V551.3H275.88V552.5 M227.77,554V548.5H261.45V551.3 M208.53,550.2V545.4H244.61V548.5 M141.97,548V543.6H226.57V545.4 M112.3,554V542H184.27V543.6" fill="none" stroke="#222" stroke-width="0.9"/>
<path d="M84.8,563H83.2V577.07H84.8 M83.2,570.04H82.5V591.14H84.8 M84.8,605.21H83V619.28H84.8 M82.5,580.59H81.5V612.25H83 M84.8,633.35H83.2V647.42H84.8 M83.2,640.38H82.4V661.49H84.8 M81.5,596.42H80.5V650.94H82.4 M84.8,675.56H83.9V689.63H84.8 M83.9,682.6H82.5V703.7H84.8 M82.5,693.15H81.5V717.77H84.8 M84.8,731.84H83.9V745.91H84.8 M81.5,705.46H80.7V738.88H83.9 M80.5,623.68H72.3V722.17H80.7" fill="none" stroke="#222" stroke-width="0.9"/>
<text x="105" y="567.2" font-size="8" text-anchor="end" fill="#2b2b2b" >C9</text>
<text x="105" y="581.27" font-size="8" text-anchor="end" fill="#2b2b2b" >C6</text>
<text x="105" y="595.34" font-size="8" text-anchor="end" fill="#2b2b2b" >C12</text>
<text x="105" y="609.41" font-size="8" text-anchor="end" fill="#2b2b2b" >C11</text>
<text x="105" y="623.48" font-size="8" text-anchor="end" fill="#2b2b2b" >C7</text>
<text x="105" y="637.55" font-size="8" text-anchor="end" fill="#2b2b2b" >C14</text>
<text x="105" y="651.62" font-size="8" text-anchor="end" fill="#2b2b2b" >C10</text>
<text x="105" y="665.69" font-size="8" text-anchor="end" fill="#2b2b2b" >C2</text>
<text x="105" y="679.76" font-size="8" text-anchor="end" fill="#2b2b2b" >C5</text>
<text x="105" y="693.83" font-size="8" text-anchor="end" fill="#2b2b2b" >C3</text>
<text x="105" y="707.9" font-size="8" text-anchor="end" fill="#2b2b2b" >C13</text>
<text x="105" y="721.97" font-size="8" text-anchor="end" fill="#2b2b2b" >C4</text>
<text x="105" y="736.04" font-size="8" text-anchor="end" fill="#2b2b2b" >C8</text>
<text x="105" y="750.11" font-size="8" text-anchor="end" fill="#2b2b2b" >C1</text>
<circle cx="112.3" cy="563" r="1" fill="#fdfaf4" stroke="#c5c3be" stroke-width="0.7"/>
<circle cx="125.13" cy="563" r="5.3" fill="#f5b820" stroke="#b88a18" stroke-width="0.75"/>
<circle cx="137.96" cy="563" r="4.5" fill="#f9db72" stroke="#bba456" stroke-width="0.75"/>
<circle cx="150.79" cy="563" r="4.8" fill="#f6c62b" stroke="#b89420" stroke-width="0.75"/>
<circle cx="163.62" cy="563" r="4.8" fill="#fae398" stroke="#bcaa72" stroke-width="0.75"/>
<circle cx="176.45" cy="563" r="4.8" fill="#fefdfb" stroke="#d3d2d0" stroke-width="0.75"/>
<circle cx="189.28" cy="563" r="4.8" fill="#f6c62b" stroke="#b89420" stroke-width="0.75"/>
<circle cx="202.11" cy="563" r="3.5" fill="#f9db72" stroke="#bba456" stroke-width="0.75"/>
<circle cx="214.94" cy="563" r="2" fill="#fefcf8" stroke="#d3d1ce" stroke-width="0.75"/>
<circle cx="227.77" cy="563" r="3.5" fill="#ec633e" stroke="#b14a2e" stroke-width="0.75"/>
<circle cx="240.6" cy="563" r="4" fill="#f19834" stroke="#b57227" stroke-width="0.75"/>
<circle cx="253.43" cy="563" r="4" fill="#fefcf8" stroke="#d3d1ce" stroke-width="0.75"/>
<circle cx="266.26" cy="563" r="4.5" fill="#fefcf8" stroke="#d3d1ce" stroke-width="0.75"/>
<circle cx="279.09" cy="563" r="4.5" fill="#f19834" stroke="#b57227" stroke-width="0.75"/>
<circle cx="291.92" cy="563" r="4.5" fill="#fade82" stroke="#bca662" stroke-width="0.75"/>
<circle cx="112.3" cy="577.07" r="1" fill="#fdfaf4" stroke="#c5c3be" stroke-width="0.7"/>
<circle cx="125.13" cy="577.07" r="5" fill="#fefdfb" stroke="#d3d2d0" stroke-width="0.75"/>
<circle cx="137.96" cy="577.07" r="4.8" fill="#fefdfb" stroke="#d3d2d0" stroke-width="0.75"/>
<circle cx="150.79" cy="577.07" r="4.8" fill="#fefdfb" stroke="#d3d2d0" stroke-width="0.75"/>
<circle cx="163.62" cy="577.07" r="4.8" fill="#fefdfb" stroke="#d3d2d0" stroke-width="0.75"/>
<circle cx="176.45" cy="577.07" r="4.8" fill="#fefdfb" stroke="#d3d2d0" stroke-width="0.75"/>
<circle cx="189.28" cy="577.07" r="4.8" fill="#fefdfb" stroke="#d3d2d0" stroke-width="0.75"/>
<circle cx="202.11" cy="577.07" r="3" fill="#fefdfb" stroke="#d3d2d0" stroke-width="0.75"/>
<circle cx="214.94" cy="577.07" r="1.5" fill="#fdfaf4" stroke="#c5c3be" stroke-width="0.7"/>
<circle cx="227.77" cy="577.07" r="2.5" fill="#ec5d3a" stroke="#b1462c" stroke-width="0.75"/>
<circle cx="240.6" cy="577.07" r="4" fill="#fefdfb" stroke="#d3d2d0" stroke-width="0.75"/>
<circle cx="253.43" cy="577.07" r="4" fill="#fefdfb" stroke="#d3d2d0" stroke-width="0.75"/>
<circle cx="266.26" cy="577.07" r="4.5" fill="#fefdfb" stroke="#d3d2d0" stroke-width="0.75"/>
<circle cx="279.09" cy="577.07" r="4.5" fill="#f4ad27" stroke="#b7821d" stroke-width="0.75"/>
<circle cx="291.92" cy="577.07" r="4.5" fill="#fade82" stroke="#bca662" stroke-width="0.75"/>
<circle cx="112.3" cy="591.14" r="1.3" fill="#f6c127" stroke="#a07d19" stroke-width="0.7"/>
<circle cx="125.13" cy="591.14" r="5.3" fill="#ec3621" stroke="#b12819" stroke-width="0.75"/>
<circle cx="137.96" cy="591.14" r="4.8" fill="#fade82" stroke="#bca662" stroke-width="0.75"/>
<circle cx="150.79" cy="591.14" r="4.8" fill="#f2a22d" stroke="#b67a22" stroke-width="0.75"/>
<circle cx="163.62" cy="591.14" r="4.8" fill="#f7ca2d" stroke="#b99822" stroke-width="0.75"/>
<circle cx="176.45" cy="591.14" r="4.8" fill="#fefdfb" stroke="#d3d2d0" stroke-width="0.75"/>
<circle cx="189.28" cy="591.14" r="4.5" fill="#f6c62b" stroke="#b89420" stroke-width="0.75"/>
<circle cx="202.11" cy="591.14" r="3.5" fill="#f7ca2d" stroke="#b99822" stroke-width="0.75"/>
<circle cx="214.94" cy="591.14" r="3" fill="#fae398" stroke="#bcaa72" stroke-width="0.75"/>
<circle cx="227.77" cy="591.14" r="4.3" fill="#ec5836" stroke="#b14228" stroke-width="0.75"/>
<circle cx="240.6" cy="591.14" r="4" fill="#ee7b40" stroke="#b25c30" stroke-width="0.75"/>
<circle cx="253.43" cy="591.14" r="3.5" fill="#ec311e" stroke="#b12516" stroke-width="0.75"/>
<circle cx="266.26" cy="591.14" r="4" fill="#ec633e" stroke="#b14a2e" stroke-width="0.75"/>
<circle cx="279.09" cy="591.14" r="4.8" fill="#ed7342" stroke="#b25632" stroke-width="0.75"/>
<circle cx="291.92" cy="591.14" r="4.8" fill="#fae398" stroke="#bcaa72" stroke-width="0.75"/>
<circle cx="112.3" cy="605.21" r="1.3" fill="#f7ca2d" stroke="#a1831d" stroke-width="0.7"/>
<circle cx="125.13" cy="605.21" r="5.3" fill="#f4b423" stroke="#b7871a" stroke-width="0.75"/>
<circle cx="137.96" cy="605.21" r="4.8" fill="#f7ca2d" stroke="#b99822" stroke-width="0.75"/>
<circle cx="150.79" cy="605.21" r="4.8" fill="#f5b820" stroke="#b88a18" stroke-width="0.75"/>
<circle cx="163.62" cy="605.21" r="5.5" fill="#ec3621" stroke="#b12819" stroke-width="0.75"/>
<circle cx="176.45" cy="605.21" r="4.8" fill="#fefdfb" stroke="#d3d2d0" stroke-width="0.75"/>
<circle cx="189.28" cy="605.21" r="4.8" fill="#f4ad27" stroke="#b7821d" stroke-width="0.75"/>
<circle cx="202.11" cy="605.21" r="4" fill="#f9db72" stroke="#bba456" stroke-width="0.75"/>
<circle cx="214.94" cy="605.21" r="1.5" fill="#f7ca2d" stroke="#a1831d" stroke-width="0.7"/>
<circle cx="227.77" cy="605.21" r="3.5" fill="#ec633e" stroke="#b14a2e" stroke-width="0.75"/>
<circle cx="240.6" cy="605.21" r="4" fill="#f09137" stroke="#b46d29" stroke-width="0.75"/>
<circle cx="253.43" cy="605.21" r="3.5" fill="#fefcf8" stroke="#d3d1ce" stroke-width="0.75"/>
<circle cx="266.26" cy="605.21" r="4.5" fill="#ed7342" stroke="#b25632" stroke-width="0.75"/>
<circle cx="279.09" cy="605.21" r="4.5" fill="#f0883c" stroke="#b4662d" stroke-width="0.75"/>
<circle cx="291.92" cy="605.21" r="4" fill="#ed7741" stroke="#b25931" stroke-width="0.75"/>
<circle cx="112.3" cy="619.28" r="1" fill="#fdfaf4" stroke="#c5c3be" stroke-width="0.7"/>
<circle cx="125.13" cy="619.28" r="4.8" fill="#fbeecd" stroke="#d0c6aa" stroke-width="0.75"/>
<circle cx="137.96" cy="619.28" r="4.8" fill="#fae398" stroke="#bcaa72" stroke-width="0.75"/>
<circle cx="150.79" cy="619.28" r="4.8" fill="#f6c62b" stroke="#b89420" stroke-width="0.75"/>
<circle cx="163.62" cy="619.28" r="5.5" fill="#f4b423" stroke="#b7871a" stroke-width="0.75"/>
<circle cx="176.45" cy="619.28" r="4.8" fill="#fefdfb" stroke="#d3d2d0" stroke-width="0.75"/>
<circle cx="189.28" cy="619.28" r="4.8" fill="#f19834" stroke="#b57227" stroke-width="0.75"/>
<circle cx="202.11" cy="619.28" r="4" fill="#f9db72" stroke="#bba456" stroke-width="0.75"/>
<circle cx="214.94" cy="619.28" r="1.5" fill="#fdfaf4" stroke="#c5c3be" stroke-width="0.7"/>
<circle cx="227.77" cy="619.28" r="2.5" fill="#ec4f30" stroke="#b13b24" stroke-width="0.75"/>
<circle cx="240.6" cy="619.28" r="3.8" fill="#fefdfb" stroke="#d3d2d0" stroke-width="0.75"/>
<circle cx="253.43" cy="619.28" r="4" fill="#f7ca2d" stroke="#b99822" stroke-width="0.75"/>
<circle cx="266.26" cy="619.28" r="4.5" fill="#ed7342" stroke="#b25632" stroke-width="0.75"/>
<circle cx="279.09" cy="619.28" r="4.5" fill="#f19834" stroke="#b57227" stroke-width="0.75"/>
<circle cx="291.92" cy="619.28" r="4" fill="#fae398" stroke="#bcaa72" stroke-width="0.75"/>
<circle cx="112.3" cy="633.35" r="3" fill="#f6c62b" stroke="#b89420" stroke-width="0.75"/>
<circle cx="125.13" cy="633.35" r="4.8" fill="#fcf3dd" stroke="#d1cab7" stroke-width="0.75"/>
<circle cx="137.96" cy="633.35" r="5.3" fill="#f6c62b" stroke="#b89420" stroke-width="0.75"/>
<circle cx="150.79" cy="633.35" r="4" fill="#f6c62b" stroke="#b89420" stroke-width="0.75"/>
<circle cx="163.62" cy="633.35" r="4.8" fill="#fbebbe" stroke="#d0c39e" stroke-width="0.75"/>
<circle cx="176.45" cy="633.35" r="5.5" fill="#ec3621" stroke="#b12819" stroke-width="0.75"/>
<circle cx="189.28" cy="633.35" r="4.8" fill="#ec3621" stroke="#b12819" stroke-width="0.75"/>
<circle cx="202.11" cy="633.35" r="3.8" fill="#f7ca2d" stroke="#b99822" stroke-width="0.75"/>
<circle cx="214.94" cy="633.35" r="2.8" fill="#fae398" stroke="#bcaa72" stroke-width="0.75"/>
<circle cx="227.77" cy="633.35" r="1.5" fill="#fdfaf4" stroke="#c5c3be" stroke-width="0.7"/>
<circle cx="240.6" cy="633.35" r="3.8" fill="#ee7b40" stroke="#b25c30" stroke-width="0.75"/>
<circle cx="253.43" cy="633.35" r="4" fill="#fdfaf4" stroke="#d2d0cb" stroke-width="0.75"/>
<circle cx="266.26" cy="633.35" r="4" fill="#fefdfb" stroke="#d3d2d0" stroke-width="0.75"/>
<circle cx="279.09" cy="633.35" r="4" fill="#fdfaf4" stroke="#d2d0cb" stroke-width="0.75"/>
<circle cx="291.92" cy="633.35" r="4.5" fill="#ec3621" stroke="#b12819" stroke-width="0.75"/>
<circle cx="112.3" cy="647.42" r="1.3" fill="#ec4228" stroke="#992b1a" stroke-width="0.7"/>
<circle cx="125.13" cy="647.42" r="4.8" fill="#fae398" stroke="#bcaa72" stroke-width="0.75"/>
<circle cx="137.96" cy="647.42" r="5.3" fill="#f7cd30" stroke="#b99a24" stroke-width="0.75"/>
<circle cx="150.79" cy="647.42" r="4.5" fill="#f5b820" stroke="#b88a18" stroke-width="0.75"/>
<circle cx="163.62" cy="647.42" r="4.8" fill="#fae4a0" stroke="#d0bd85" stroke-width="0.75"/>
<circle cx="176.45" cy="647.42" r="5" fill="#fbebbe" stroke="#d0c39e" stroke-width="0.75"/>
<circle cx="189.28" cy="647.42" r="4.3" fill="#f29e30" stroke="#b67624" stroke-width="0.75"/>
<circle cx="202.11" cy="647.42" r="4" fill="#f7ca2d" stroke="#b99822" stroke-width="0.75"/>
<circle cx="214.94" cy="647.42" r="3" fill="#f7ca2d" stroke="#b99822" stroke-width="0.75"/>
<circle cx="227.77" cy="647.42" r="2.5" fill="#fefdfb" stroke="#d3d2d0" stroke-width="0.75"/>
<circle cx="240.6" cy="647.42" r="4" fill="#ed7342" stroke="#b25632" stroke-width="0.75"/>
<circle cx="253.43" cy="647.42" r="4.3" fill="#fefdfb" stroke="#d3d2d0" stroke-width="0.75"/>
<circle cx="266.26" cy="647.42" r="4.8" fill="#fefdfb" stroke="#d3d2d0" stroke-width="0.75"/>
<circle cx="279.09" cy="647.42" r="4.5" fill="#fefdfb" stroke="#d3d2d0" stroke-width="0.75"/>
<circle cx="291.92" cy="647.42" r="4.3" fill="#ed7342" stroke="#b25632" stroke-width="0.75"/>
<circle cx="112.3" cy="661.49" r="1.2" fill="#ec472b" stroke="#992e1c" stroke-width="0.7"/>
<circle cx="125.13" cy="661.49" r="3.5" fill="#fcf3dd" stroke="#d1cab7" stroke-width="0.75"/>
<circle cx="137.96" cy="661.49" r="5.3" fill="#fade82" stroke="#bca662" stroke-width="0.75"/>
<circle cx="150.79" cy="661.49" r="4.5" fill="#f5b820" stroke="#b88a18" stroke-width="0.75"/>
<circle cx="163.62" cy="661.49" r="4.5" fill="#fbeecd" stroke="#d0c6aa" stroke-width="0.75"/>
<circle cx="176.45" cy="661.49" r="4.8" fill="#fefdfb" stroke="#d3d2d0" stroke-width="0.75"/>
<circle cx="189.28" cy="661.49" r="4.3" fill="#f4ad27" stroke="#b7821d" stroke-width="0.75"/>
<circle cx="202.11" cy="661.49" r="3.5" fill="#f9db72" stroke="#bba456" stroke-width="0.75"/>
<circle cx="214.94" cy="661.49" r="1.5" fill="#fdfaf4" stroke="#c5c3be" stroke-width="0.7"/>
<circle cx="227.77" cy="661.49" r="2" fill="#ec5836" stroke="#b14228" stroke-width="0.75"/>
<circle cx="240.6" cy="661.49" r="4.5" fill="#fefdfb" stroke="#d3d2d0" stroke-width="0.75"/>
<circle cx="253.43" cy="661.49" r="4.3" fill="#f7ca2d" stroke="#b99822" stroke-width="0.75"/>
<circle cx="266.26" cy="661.49" r="4.8" fill="#ec633e" stroke="#b14a2e" stroke-width="0.75"/>
<circle cx="279.09" cy="661.49" r="4.3" fill="#f09137" stroke="#b46d29" stroke-width="0.75"/>
<circle cx="291.92" cy="661.49" r="4.3" fill="#f09137" stroke="#b46d29" stroke-width="0.75"/>
<circle cx="112.3" cy="675.56" r="1" fill="#fdfaf4" stroke="#c5c3be" stroke-width="0.7"/>
<circle cx="125.13" cy="675.56" r="4" fill="#fefdfb" stroke="#d3d2d0" stroke-width="0.75"/>
<circle cx="137.96" cy="675.56" r="5.3" fill="#fae398" stroke="#bcaa72" stroke-width="0.75"/>
<circle cx="150.79" cy="675.56" r="4.8" fill="#ed7741" stroke="#b25931" stroke-width="0.75"/>
<circle cx="163.62" cy="675.56" r="4.5" fill="#fefdfb" stroke="#d3d2d0" stroke-width="0.75"/>
<circle cx="176.45" cy="675.56" r="4.8" fill="#fefdfb" stroke="#d3d2d0" stroke-width="0.75"/>
<circle cx="189.28" cy="675.56" r="4.3" fill="#fefdfb" stroke="#d3d2d0" stroke-width="0.75"/>
<circle cx="202.11" cy="675.56" r="5.3" fill="#f7ca2d" stroke="#b99822" stroke-width="0.75"/>
<circle cx="214.94" cy="675.56" r="5.3" fill="#f7ca2d" stroke="#b99822" stroke-width="0.75"/>
<circle cx="227.77" cy="675.56" r="2.8" fill="#ec5836" stroke="#b14228" stroke-width="0.75"/>
<circle cx="240.6" cy="675.56" r="4.3" fill="#fefdfb" stroke="#d3d2d0" stroke-width="0.75"/>
<circle cx="253.43" cy="675.56" r="4.3" fill="#fefdfb" stroke="#d3d2d0" stroke-width="0.75"/>
<circle cx="266.26" cy="675.56" r="4.8" fill="#ec633e" stroke="#b14a2e" stroke-width="0.75"/>
<circle cx="279.09" cy="675.56" r="4.5" fill="#f09137" stroke="#b46d29" stroke-width="0.75"/>
<circle cx="291.92" cy="675.56" r="4.3" fill="#fae398" stroke="#bcaa72" stroke-width="0.75"/>
<circle cx="112.3" cy="689.63" r="1" fill="#fdfaf4" stroke="#c5c3be" stroke-width="0.7"/>
<circle cx="125.13" cy="689.63" r="3" fill="#fcf3dd" stroke="#d1cab7" stroke-width="0.75"/>
<circle cx="137.96" cy="689.63" r="5.3" fill="#f6c62b" stroke="#b89420" stroke-width="0.75"/>
<circle cx="150.79" cy="689.63" r="5" fill="#ec3621" stroke="#b12819" stroke-width="0.75"/>
<circle cx="163.62" cy="689.63" r="4.5" fill="#fcf3dd" stroke="#d1cab7" stroke-width="0.75"/>
<circle cx="176.45" cy="689.63" r="4.3" fill="#fefdfb" stroke="#d3d2d0" stroke-width="0.75"/>
<circle cx="189.28" cy="689.63" r="4.3" fill="#f6c62b" stroke="#b89420" stroke-width="0.75"/>
<circle cx="202.11" cy="689.63" r="5.5" fill="#f09137" stroke="#b46d29" stroke-width="0.75"/>
<circle cx="214.94" cy="689.63" r="5.5" fill="#f09137" stroke="#b46d29" stroke-width="0.75"/>
<circle cx="227.77" cy="689.63" r="3.5" fill="#ec4f30" stroke="#b13b24" stroke-width="0.75"/>
<circle cx="240.6" cy="689.63" r="4.3" fill="#f19834" stroke="#b57227" stroke-width="0.75"/>
<circle cx="253.43" cy="689.63" r="4.3" fill="#fefdfb" stroke="#d3d2d0" stroke-width="0.75"/>
<circle cx="266.26" cy="689.63" r="4.8" fill="#ec4228" stroke="#b1321e" stroke-width="0.75"/>
<circle cx="279.09" cy="689.63" r="4.5" fill="#ec5d3a" stroke="#b1462c" stroke-width="0.75"/>
<circle cx="291.92" cy="689.63" r="4.3" fill="#fae398" stroke="#bcaa72" stroke-width="0.75"/>
<circle cx="112.3" cy="703.7" r="0.6" fill="#fdfaf4" stroke="#c5c3be" stroke-width="0.7"/>
<circle cx="125.13" cy="703.7" r="3.5" fill="#fbeecd" stroke="#d0c6aa" stroke-width="0.75"/>
<circle cx="137.96" cy="703.7" r="5" fill="#f7ca2d" stroke="#b99822" stroke-width="0.75"/>
<circle cx="150.79" cy="703.7" r="4.8" fill="#ec6c44" stroke="#b15133" stroke-width="0.75"/>
<circle cx="163.62" cy="703.7" r="5.5" fill="#ef823f" stroke="#b3622f" stroke-width="0.75"/>
<circle cx="176.45" cy="703.7" r="4.5" fill="#fefdfb" stroke="#d3d2d0" stroke-width="0.75"/>
<circle cx="189.28" cy="703.7" r="4.3" fill="#fefdfb" stroke="#d3d2d0" stroke-width="0.75"/>
<circle cx="202.11" cy="703.7" r="5.3" fill="#f2a22d" stroke="#b67a22" stroke-width="0.75"/>
<circle cx="214.94" cy="703.7" r="5.3" fill="#f2a22d" stroke="#b67a22" stroke-width="0.75"/>
<circle cx="227.77" cy="703.7" r="3" fill="#fcf5e4" stroke="#d1cbbd" stroke-width="0.75"/>
<circle cx="240.6" cy="703.7" r="4" fill="#f09137" stroke="#b46d29" stroke-width="0.75"/>
<circle cx="253.43" cy="703.7" r="4.3" fill="#fefdfb" stroke="#d3d2d0" stroke-width="0.75"/>
<circle cx="266.26" cy="703.7" r="4.8" fill="#ec633e" stroke="#b14a2e" stroke-width="0.75"/>
<circle cx="279.09" cy="703.7" r="4.5" fill="#fefdfb" stroke="#d3d2d0" stroke-width="0.75"/>
<circle cx="291.92" cy="703.7" r="4.5" fill="#fefdfb" stroke="#d3d2d0" stroke-width="0.75"/>
<circle cx="125.13" cy="717.77" r="5.5" fill="#f6c62b" stroke="#b89420" stroke-width="0.75"/>
<circle cx="137.96" cy="717.77" r="5" fill="#f7ca2d" stroke="#b99822" stroke-width="0.75"/>
<circle cx="150.79" cy="717.77" r="4.8" fill="#ed7741" stroke="#b25931" stroke-width="0.75"/>
<circle cx="163.62" cy="717.77" r="4.5" fill="#fbe8af" stroke="#d0c191" stroke-width="0.75"/>
<circle cx="176.45" cy="717.77" r="4.3" fill="#fefdfb" stroke="#d3d2d0" stroke-width="0.75"/>
<circle cx="189.28" cy="717.77" r="4.3" fill="#fefdfb" stroke="#d3d2d0" stroke-width="0.75"/>
<circle cx="202.11" cy="717.77" r="5.3" fill="#f6c62b" stroke="#b89420" stroke-width="0.75"/>
<circle cx="214.94" cy="717.77" r="5.3" fill="#f6c62b" stroke="#b89420" stroke-width="0.75"/>
<circle cx="227.77" cy="717.77" r="4" fill="#ec5d3a" stroke="#b1462c" stroke-width="0.75"/>
<circle cx="240.6" cy="717.77" r="4" fill="#fefdfb" stroke="#d3d2d0" stroke-width="0.75"/>
<circle cx="253.43" cy="717.77" r="4.3" fill="#fefdfb" stroke="#d3d2d0" stroke-width="0.75"/>
<circle cx="266.26" cy="717.77" r="4.8" fill="#ec633e" stroke="#b14a2e" stroke-width="0.75"/>
<circle cx="279.09" cy="717.77" r="4.5" fill="#ed7342" stroke="#b25632" stroke-width="0.75"/>
<circle cx="291.92" cy="717.77" r="4.3" fill="#fae398" stroke="#bcaa72" stroke-width="0.75"/>
<circle cx="112.3" cy="731.84" r="1.3" fill="#fdfaf4" stroke="#c5c3be" stroke-width="0.7"/>
<circle cx="125.13" cy="731.84" r="2.8" fill="#fcf3dd" stroke="#d1cab7" stroke-width="0.75"/>
<circle cx="137.96" cy="731.84" r="5.5" fill="#ec3621" stroke="#b12819" stroke-width="0.75"/>
<circle cx="150.79" cy="731.84" r="4.5" fill="#f19834" stroke="#b57227" stroke-width="0.75"/>
<circle cx="163.62" cy="731.84" r="3.8" fill="#fbeecd" stroke="#d0c6aa" stroke-width="0.75"/>
<circle cx="176.45" cy="731.84" r="4.3" fill="#fefdfb" stroke="#d3d2d0" stroke-width="0.75"/>
<circle cx="189.28" cy="731.84" r="4" fill="#f6c62b" stroke="#b89420" stroke-width="0.75"/>
<circle cx="202.11" cy="731.84" r="5.3" fill="#f4b423" stroke="#b7871a" stroke-width="0.75"/>
<circle cx="214.94" cy="731.84" r="5.3" fill="#f6c62b" stroke="#b89420" stroke-width="0.75"/>
<circle cx="227.77" cy="731.84" r="4.8" fill="#ec3621" stroke="#b12819" stroke-width="0.75"/>
<circle cx="240.6" cy="731.84" r="5" fill="#ec3621" stroke="#b12819" stroke-width="0.75"/>
<circle cx="253.43" cy="731.84" r="4.8" fill="#ec3621" stroke="#b12819" stroke-width="0.75"/>
<circle cx="266.26" cy="731.84" r="4.8" fill="#ec633e" stroke="#b14a2e" stroke-width="0.75"/>
<circle cx="279.09" cy="731.84" r="4.3" fill="#f09137" stroke="#b46d29" stroke-width="0.75"/>
<circle cx="291.92" cy="731.84" r="4.3" fill="#f09137" stroke="#b46d29" stroke-width="0.75"/>
<circle cx="112.3" cy="745.91" r="1.5" fill="#ec4228" stroke="#992b1a" stroke-width="0.7"/>
<circle cx="125.13" cy="745.91" r="3" fill="#fcf3dd" stroke="#d1cab7" stroke-width="0.75"/>
<circle cx="137.96" cy="745.91" r="5.5" fill="#ec3621" stroke="#b12819" stroke-width="0.75"/>
<circle cx="150.79" cy="745.91" r="5" fill="#ec3621" stroke="#b12819" stroke-width="0.75"/>
<circle cx="163.62" cy="745.91" r="3.8" fill="#fbeecd" stroke="#d0c6aa" stroke-width="0.75"/>
<circle cx="176.45" cy="745.91" r="4.3" fill="#fefdfb" stroke="#d3d2d0" stroke-width="0.75"/>
<circle cx="189.28" cy="745.91" r="4" fill="#f6c62b" stroke="#b89420" stroke-width="0.75"/>
<circle cx="202.11" cy="745.91" r="5.5" fill="#ec3621" stroke="#b12819" stroke-width="0.75"/>
<circle cx="214.94" cy="745.91" r="5.5" fill="#ec3621" stroke="#b12819" stroke-width="0.75"/>
<circle cx="227.77" cy="745.91" r="4.8" fill="#ec3621" stroke="#b12819" stroke-width="0.75"/>
<circle cx="240.6" cy="745.91" r="4.8" fill="#ec5d3a" stroke="#b1462c" stroke-width="0.75"/>
<circle cx="253.43" cy="745.91" r="4.8" fill="#f6c62b" stroke="#b89420" stroke-width="0.75"/>
<circle cx="266.26" cy="745.91" r="4.8" fill="#ec3621" stroke="#b12819" stroke-width="0.75"/>
<circle cx="279.09" cy="745.91" r="4.8" fill="#ec3621" stroke="#b12819" stroke-width="0.75"/>
<circle cx="291.92" cy="745.91" r="4.8" fill="#fefdfb" stroke="#d3d2d0" stroke-width="0.75"/>
<text transform="translate(112.7,764) rotate(-45)" font-size="8.2" text-anchor="end" fill="#2b2b2b">CD8α</text>
<text transform="translate(127.53,762.8) rotate(-45)" font-size="8.2" text-anchor="end" fill="#2b2b2b">CD16</text>
<text transform="translate(140.86,762.8) rotate(-45)" font-size="8.2" text-anchor="end" fill="#2b2b2b">CD56</text>
<text transform="translate(153.69,762.8) rotate(-45)" font-size="8.2" text-anchor="end" fill="#2b2b2b">NKp30</text>
<text transform="translate(167.02,762.8) rotate(-45)" font-size="8.2" text-anchor="end" fill="#2b2b2b">CD158b1b2j</text>
<text transform="translate(181.05,762.8) rotate(-45)" font-size="8.2" text-anchor="end" fill="#2b2b2b">CD57</text>
<text transform="translate(192.68,762.8) rotate(-45)" font-size="8.2" text-anchor="end" fill="#2b2b2b">NKG2C</text>
<text transform="translate(208.51,762.8) rotate(-45)" font-size="8.2" text-anchor="end" fill="#2b2b2b">CD94</text>
<text transform="translate(221.84,762.8) rotate(-45)" font-size="8.2" text-anchor="end" fill="#2b2b2b">NKG2A</text>
<text transform="translate(233.47,762.8) rotate(-45)" font-size="8.2" text-anchor="end" fill="#2b2b2b">NKp46</text>
<text transform="translate(248.6,762.8) rotate(-45)" font-size="8.2" text-anchor="end" fill="#2b2b2b">CD117</text>
<text transform="translate(260.83,762.8) rotate(-45)" font-size="8.2" text-anchor="end" fill="#2b2b2b">CD127</text>
<text transform="translate(274.66,762.8) rotate(-45)" font-size="8.2" text-anchor="end" fill="#2b2b2b">CRTh2</text>
<text transform="translate(287.09,762.8) rotate(-45)" font-size="8.2" text-anchor="end" fill="#2b2b2b">CD69</text>
<text transform="translate(302.32,762.8) rotate(-45)" font-size="8.2" text-anchor="end" fill="#2b2b2b">PD-1</text>
<line x1="299.5" y1="561.3" x2="299.5" y2="619.4" stroke="#222" stroke-width="1.1"/>
<text x="302.2" y="586" font-size="7.7" text-anchor="start" fill="#2b2b2b" letter-spacing="0.35">NKG2A<tspan font-size="4.6" dy="-3.2">lo</tspan></text>
<text x="302.2" y="595.2" font-size="7.7" text-anchor="start" fill="#2b2b2b" letter-spacing="0.35">CD94<tspan font-size="4.6" dy="-3.2">lo</tspan></text>
<text x="302.2" y="604.9" font-size="7.7" text-anchor="start" fill="#2b2b2b" letter-spacing="0.35">NKp30<tspan font-size="4.6" dy="-3.2">lo</tspan></text>
<line x1="299.5" y1="632.2" x2="299.5" y2="647.3" stroke="#222" stroke-width="1.1"/>
<text x="302.2" y="642.7" font-size="7.7" text-anchor="start" fill="#2b2b2b" letter-spacing="0.35">CD57<tspan font-size="4.6" dy="-3.2">hi</tspan></text>
<text x="302.2" y="665.2" font-size="7.7" text-anchor="start" fill="#2b2b2b" letter-spacing="0.35">NKG2A<tspan font-size="4.6" dy="-3.2">lo</tspan></text>
<line x1="299.5" y1="675.9" x2="299.5" y2="717.6" stroke="#222" stroke-width="1.1"/>
<text x="302.2" y="684.5" font-size="7.7" text-anchor="start" fill="#2b2b2b" letter-spacing="0.35">NKG2C<tspan font-size="4.6" dy="-3.2">lo</tspan></text>
<text x="302.2" y="694.1" font-size="7.7" text-anchor="start" fill="#2b2b2b" letter-spacing="0.35">NKG2A<tspan font-size="4.6" dy="-3.2">hi</tspan></text>
<text x="302.2" y="703.8" font-size="7.7" text-anchor="start" fill="#2b2b2b" letter-spacing="0.35">CD94<tspan font-size="4.6" dy="-3.2">hi</tspan></text>
<text x="302.2" y="713.7" font-size="7.7" text-anchor="start" fill="#2b2b2b" letter-spacing="0.35">NKp30<tspan font-size="4.6" dy="-3.2">hi</tspan></text>
<line x1="299.5" y1="733.4" x2="299.5" y2="746.6" stroke="#222" stroke-width="1.1"/>
<text x="302.2" y="741.7" font-size="7.7" text-anchor="start" fill="#2b2b2b" letter-spacing="0.35">CD56<tspan font-size="4.6" dy="-3.2">bright</tspan></text>
<text transform="translate(22,615) rotate(-90)" font-size="7.7" text-anchor="middle" fill="#2b2b2b" dy="0.35em">Marker</text>
<text transform="translate(32,615) rotate(-90)" font-size="7.7" text-anchor="middle" fill="#2b2b2b" dy="0.35em">Freq (%)</text>
<circle cx="44.3" cy="597.4" r="5.3" fill="none" stroke="#2b2b2b" stroke-width="0.75"/>
<text x="50.8" y="600.2" font-size="7.7" text-anchor="start" fill="#2b2b2b" >100</text>
<circle cx="44.3" cy="611.7" r="4.6" fill="none" stroke="#2b2b2b" stroke-width="0.75"/>
<text x="50.8" y="614.5" font-size="7.7" text-anchor="start" fill="#2b2b2b" >75</text>
<circle cx="44.3" cy="623.2" r="3.75" fill="none" stroke="#2b2b2b" stroke-width="0.75"/>
<text x="50.8" y="626" font-size="7.7" text-anchor="start" fill="#2b2b2b" >50</text>
<circle cx="44.3" cy="633.9" r="2.65" fill="none" stroke="#2b2b2b" stroke-width="0.75"/>
<text x="50.8" y="636.7" font-size="7.7" text-anchor="start" fill="#2b2b2b" >25</text>
<text transform="translate(20.8,678.5) rotate(-90)" font-size="7.7" text-anchor="middle" fill="#2b2b2b" dy="0.35em">Scaled</text>
<text transform="translate(31.5,678.1) rotate(-90)" font-size="7.7" text-anchor="middle" fill="#2b2b2b" dy="0.35em">marker MFI</text>
<defs><linearGradient id="dg5" x1="0" y1="1" x2="0" y2="0"><stop offset="0.000" stop-color="#fffaf0"/><stop offset="0.100" stop-color="#fcecb0"/><stop offset="0.250" stop-color="#f9d640"/><stop offset="0.400" stop-color="#f7be1c"/><stop offset="0.500" stop-color="#f5a82c"/><stop offset="0.620" stop-color="#f08a40"/><stop offset="0.750" stop-color="#ec6a44"/><stop offset="0.850" stop-color="#e44a30"/><stop offset="1.000" stop-color="#da2e20"/></linearGradient></defs>
<rect x="37.7" y="657.4" width="9.2" height="43.4" fill="url(#dg5)"/>
<text x="49.2" y="661.3" font-size="7.7" text-anchor="start" fill="#2b2b2b" >100</text>
<text x="49.2" y="673.1" font-size="7.7" text-anchor="start" fill="#2b2b2b" >75</text>
<text x="49.2" y="683.6" font-size="7.7" text-anchor="start" fill="#2b2b2b" >50</text>
<text x="49.2" y="694.6" font-size="7.7" text-anchor="start" fill="#2b2b2b" >25</text>
<text x="49.2" y="706.6" font-size="7.7" text-anchor="start" fill="#2b2b2b" >0</text>
<line x1="37.7" y1="670.3" x2="39.7" y2="670.3" stroke="#fff" stroke-width="0.6"/>
<line x1="44.9" y1="670.3" x2="46.9" y2="670.3" stroke="#fff" stroke-width="0.6"/>
<line x1="37.7" y1="680.8" x2="39.7" y2="680.8" stroke="#fff" stroke-width="0.6"/>
<line x1="44.9" y1="680.8" x2="46.9" y2="680.8" stroke="#fff" stroke-width="0.6"/>
<line x1="37.7" y1="691.8" x2="39.7" y2="691.8" stroke="#fff" stroke-width="0.6"/>
<line x1="44.9" y1="691.8" x2="46.9" y2="691.8" stroke="#fff" stroke-width="0.6"/>
<rect x="347.2" y="555.2" width="13.86" height="14.64" fill="#312a8b"/>
<rect x="360.46" y="555.2" width="13.86" height="14.64" fill="#3f278f"/>
<rect x="373.72" y="555.2" width="13.86" height="14.64" fill="#6a2796"/>
<rect x="386.98" y="555.2" width="13.86" height="14.64" fill="#6e2796"/>
<rect x="400.24" y="555.2" width="13.86" height="14.64" fill="#a22e95"/>
<rect x="413.5" y="555.2" width="13.86" height="14.64" fill="#a83094"/>
<rect x="426.76" y="555.2" width="13.26" height="14.64" fill="#5a2594"/>
<rect x="443" y="555.2" width="13.6" height="14.64" fill="#a83094"/>
<rect x="456" y="555.2" width="13" height="14.64" fill="#d84492"/>
<rect x="347.2" y="569.24" width="13.86" height="14.64" fill="#312a8b"/>
<rect x="360.46" y="569.24" width="13.86" height="14.64" fill="#472690"/>
<rect x="373.72" y="569.24" width="13.86" height="14.64" fill="#5a2594"/>
<rect x="386.98" y="569.24" width="13.86" height="14.64" fill="#922a97"/>
<rect x="400.24" y="569.24" width="13.86" height="14.64" fill="#d84492"/>
<rect x="413.5" y="569.24" width="13.86" height="14.64" fill="#f06a80"/>
<rect x="426.76" y="569.24" width="13.26" height="14.64" fill="#c84096"/>
<rect x="443" y="569.24" width="13.6" height="14.64" fill="#a22e95"/>
<rect x="456" y="569.24" width="13" height="14.64" fill="#e44c90"/>
<rect x="347.2" y="583.28" width="13.86" height="14.64" fill="#312a8b"/>
<rect x="360.46" y="583.28" width="13.86" height="14.64" fill="#312a8b"/>
<rect x="373.72" y="583.28" width="13.86" height="14.64" fill="#3f278f"/>
<rect x="386.98" y="583.28" width="13.86" height="14.64" fill="#312a8b"/>
<rect x="400.24" y="583.28" width="13.86" height="14.64" fill="#3f278f"/>
<rect x="413.5" y="583.28" width="13.86" height="14.64" fill="#3f278f"/>
<rect x="426.76" y="583.28" width="13.26" height="14.64" fill="#3f278f"/>
<rect x="443" y="583.28" width="13.6" height="14.64" fill="#312a8b"/>
<rect x="456" y="583.28" width="13" height="14.64" fill="#3f278f"/>
<rect x="347.2" y="597.32" width="13.86" height="14.64" fill="#312a8b"/>
<rect x="360.46" y="597.32" width="13.86" height="14.64" fill="#3f278f"/>
<rect x="373.72" y="597.32" width="13.86" height="14.64" fill="#832a98"/>
<rect x="386.98" y="597.32" width="13.86" height="14.64" fill="#832a98"/>
<rect x="400.24" y="597.32" width="13.86" height="14.64" fill="#5a2594"/>
<rect x="413.5" y="597.32" width="13.86" height="14.64" fill="#5a2594"/>
<rect x="426.76" y="597.32" width="13.26" height="14.64" fill="#5a2594"/>
<rect x="443" y="597.32" width="13.6" height="14.64" fill="#312a8b"/>
<rect x="456" y="597.32" width="13" height="14.64" fill="#472690"/>
<rect x="347.2" y="611.36" width="13.86" height="14.64" fill="#3f278f"/>
<rect x="360.46" y="611.36" width="13.86" height="14.64" fill="#5a2594"/>
<rect x="373.72" y="611.36" width="13.86" height="14.64" fill="#d04294"/>
<rect x="386.98" y="611.36" width="13.86" height="14.64" fill="#e44c90"/>
<rect x="400.24" y="611.36" width="13.86" height="14.64" fill="#ee5090"/>
<rect x="413.5" y="611.36" width="13.86" height="14.64" fill="#c84096"/>
<rect x="426.76" y="611.36" width="13.26" height="14.64" fill="#d04294"/>
<rect x="443" y="611.36" width="13.6" height="14.64" fill="#922a97"/>
<rect x="456" y="611.36" width="13" height="14.64" fill="#922a97"/>
<rect x="347.2" y="625.4" width="13.86" height="14.64" fill="#312a8b"/>
<rect x="360.46" y="625.4" width="13.86" height="14.64" fill="#312a8b"/>
<rect x="373.72" y="625.4" width="13.86" height="14.64" fill="#2a2c88"/>
<rect x="386.98" y="625.4" width="13.86" height="14.64" fill="#2a2c88"/>
<rect x="400.24" y="625.4" width="13.86" height="14.64" fill="#312a8b"/>
<rect x="413.5" y="625.4" width="13.86" height="14.64" fill="#312a8b"/>
<rect x="426.76" y="625.4" width="13.26" height="14.64" fill="#312a8b"/>
<rect x="443" y="625.4" width="13.6" height="14.64" fill="#312a8b"/>
<rect x="456" y="625.4" width="13" height="14.64" fill="#312a8b"/>
<rect x="347.2" y="639.44" width="13.86" height="14.64" fill="#922a97"/>
<rect x="360.46" y="639.44" width="13.86" height="14.64" fill="#922a97"/>
<rect x="373.72" y="639.44" width="13.86" height="14.64" fill="#8e2a98"/>
<rect x="386.98" y="639.44" width="13.86" height="14.64" fill="#832a98"/>
<rect x="400.24" y="639.44" width="13.86" height="14.64" fill="#6a2796"/>
<rect x="413.5" y="639.44" width="13.86" height="14.64" fill="#6a2796"/>
<rect x="426.76" y="639.44" width="13.26" height="14.64" fill="#832a98"/>
<rect x="443" y="639.44" width="13.6" height="14.64" fill="#f07078"/>
<rect x="456" y="639.44" width="13" height="14.64" fill="#e44c90"/>
<rect x="347.2" y="653.48" width="13.86" height="14.64" fill="#6a2796"/>
<rect x="360.46" y="653.48" width="13.86" height="14.64" fill="#6a2796"/>
<rect x="373.72" y="653.48" width="13.86" height="14.64" fill="#832a98"/>
<rect x="386.98" y="653.48" width="13.86" height="14.64" fill="#832a98"/>
<rect x="400.24" y="653.48" width="13.86" height="14.64" fill="#b03594"/>
<rect x="413.5" y="653.48" width="13.86" height="14.64" fill="#b03594"/>
<rect x="426.76" y="653.48" width="13.26" height="14.64" fill="#a22e95"/>
<rect x="443" y="653.48" width="13.6" height="14.64" fill="#f8e018"/>
<rect x="456" y="653.48" width="13" height="14.64" fill="#f07078"/>
<rect x="347.2" y="667.52" width="13.86" height="14.64" fill="#c84096"/>
<rect x="360.46" y="667.52" width="13.86" height="14.64" fill="#ee5090"/>
<rect x="373.72" y="667.52" width="13.86" height="14.64" fill="#832a98"/>
<rect x="386.98" y="667.52" width="13.86" height="14.64" fill="#832a98"/>
<rect x="400.24" y="667.52" width="13.86" height="14.64" fill="#6a2796"/>
<rect x="413.5" y="667.52" width="13.86" height="14.64" fill="#6a2796"/>
<rect x="426.76" y="667.52" width="13.26" height="14.64" fill="#832a98"/>
<rect x="443" y="667.52" width="13.6" height="14.64" fill="#f06a80"/>
<rect x="456" y="667.52" width="13" height="14.64" fill="#d04294"/>
<rect x="347.2" y="681.56" width="13.86" height="14.64" fill="#f28a50"/>
<rect x="360.46" y="681.56" width="13.86" height="14.64" fill="#f28a50"/>
<rect x="373.72" y="681.56" width="13.86" height="14.64" fill="#c84096"/>
<rect x="386.98" y="681.56" width="13.86" height="14.64" fill="#c84096"/>
<rect x="400.24" y="681.56" width="13.86" height="14.64" fill="#832a98"/>
<rect x="413.5" y="681.56" width="13.86" height="14.64" fill="#832a98"/>
<rect x="426.76" y="681.56" width="13.26" height="14.64" fill="#8e2a98"/>
<rect x="443" y="681.56" width="13.6" height="14.64" fill="#472690"/>
<rect x="456" y="681.56" width="13" height="14.64" fill="#472690"/>
<rect x="347.2" y="695.6" width="13.86" height="14.64" fill="#312a8b"/>
<rect x="360.46" y="695.6" width="13.86" height="14.64" fill="#312a8b"/>
<rect x="373.72" y="695.6" width="13.86" height="14.64" fill="#2a2c88"/>
<rect x="386.98" y="695.6" width="13.86" height="14.64" fill="#2a2c88"/>
<rect x="400.24" y="695.6" width="13.86" height="14.64" fill="#2a2c88"/>
<rect x="413.5" y="695.6" width="13.86" height="14.64" fill="#2a2c88"/>
<rect x="426.76" y="695.6" width="13.26" height="14.64" fill="#312a8b"/>
<rect x="443" y="695.6" width="13.6" height="14.64" fill="#2a2c88"/>
<rect x="456" y="695.6" width="13" height="14.64" fill="#2a2c88"/>
<rect x="347.2" y="709.64" width="13.86" height="14.64" fill="#c84096"/>
<rect x="360.46" y="709.64" width="13.86" height="14.64" fill="#f06a80"/>
<rect x="373.72" y="709.64" width="13.86" height="14.64" fill="#f06a80"/>
<rect x="386.98" y="709.64" width="13.86" height="14.64" fill="#d84492"/>
<rect x="400.24" y="709.64" width="13.86" height="14.64" fill="#a83094"/>
<rect x="413.5" y="709.64" width="13.86" height="14.64" fill="#a83094"/>
<rect x="426.76" y="709.64" width="13.26" height="14.64" fill="#a22e95"/>
<rect x="443" y="709.64" width="13.6" height="14.64" fill="#5a2594"/>
<rect x="456" y="709.64" width="13" height="14.64" fill="#e44c90"/>
<rect x="347.2" y="723.68" width="13.86" height="14.64" fill="#c03c96"/>
<rect x="360.46" y="723.68" width="13.86" height="14.64" fill="#6a2796"/>
<rect x="373.72" y="723.68" width="13.86" height="14.64" fill="#832a98"/>
<rect x="386.98" y="723.68" width="13.86" height="14.64" fill="#832a98"/>
<rect x="400.24" y="723.68" width="13.86" height="14.64" fill="#a22e95"/>
<rect x="413.5" y="723.68" width="13.86" height="14.64" fill="#5a2594"/>
<rect x="426.76" y="723.68" width="13.26" height="14.64" fill="#a22e95"/>
<rect x="443" y="723.68" width="13.6" height="14.64" fill="#472690"/>
<rect x="456" y="723.68" width="13" height="14.64" fill="#6a2796"/>
<rect x="347.2" y="737.72" width="13.86" height="14.04" fill="#f8b818"/>
<rect x="360.46" y="737.72" width="13.86" height="14.04" fill="#f28a50"/>
<rect x="373.72" y="737.72" width="13.86" height="14.04" fill="#f07478"/>
<rect x="386.98" y="737.72" width="13.86" height="14.04" fill="#f07478"/>
<rect x="400.24" y="737.72" width="13.86" height="14.04" fill="#e44c90"/>
<rect x="413.5" y="737.72" width="13.86" height="14.04" fill="#6a2796"/>
<rect x="426.76" y="737.72" width="13.26" height="14.04" fill="#a83094"/>
<rect x="443" y="737.72" width="13.6" height="14.04" fill="#312a8b"/>
<rect x="456" y="737.72" width="13" height="14.04" fill="#312a8b"/>
<text transform="translate(356,763.3) rotate(-45)" font-size="7.7" text-anchor="end" fill="#2b2b2b">Baseline</text>
<text transform="translate(374.4,763.3) rotate(-45)" font-size="7.7" text-anchor="end" fill="#2b2b2b">T2</text>
<text transform="translate(387.4,763.3) rotate(-45)" font-size="7.7" text-anchor="end" fill="#2b2b2b">T3</text>
<text transform="translate(400.1,763.3) rotate(-45)" font-size="7.7" text-anchor="end" fill="#2b2b2b">T4</text>
<text transform="translate(411,763.3) rotate(-45)" font-size="7.7" text-anchor="end" fill="#2b2b2b">T5</text>
<text transform="translate(429,763.3) rotate(-45)" font-size="7.7" text-anchor="end" fill="#2b2b2b">T6</text>
<text transform="translate(441.3,763.3) rotate(-45)" font-size="7.7" text-anchor="end" fill="#2b2b2b">T7</text>
<text transform="translate(453.8,763.3) rotate(-45)" font-size="7.7" text-anchor="end" fill="#2b2b2b">Donor</text>
<text transform="translate(468.9,763.3) rotate(-45)" font-size="7.7" text-anchor="end" fill="#2b2b2b">HC</text>
<text transform="translate(482.1,653.7) rotate(-90)" font-size="8.1" text-anchor="middle" fill="#2b2b2b" dy="0.35em">Cluster frequency</text>
<text transform="translate(491.7,653.7) rotate(-90)" font-size="7.8" text-anchor="middle" fill="#2b2b2b" dy="0.35em">(% of NK cells)</text>
<defs><linearGradient id="hg6" x1="0" y1="1" x2="0" y2="0"><stop offset="0.000" stop-color="#2a2290"/><stop offset="0.120" stop-color="#4a209e"/><stop offset="0.270" stop-color="#7a22a0"/><stop offset="0.420" stop-color="#b43098"/><stop offset="0.540" stop-color="#e04890"/><stop offset="0.620" stop-color="#e85a78"/><stop offset="0.720" stop-color="#f08048"/><stop offset="0.830" stop-color="#f6a824"/><stop offset="0.900" stop-color="#f8cc18"/><stop offset="1.000" stop-color="#f8e214"/></linearGradient></defs>
<rect x="499.6" y="630.1" width="9" height="46.9" fill="url(#hg6)"/>
<line x1="499.6" y1="631.8" x2="501.6" y2="631.8" stroke="#fff" stroke-width="0.7"/>
<line x1="506.6" y1="631.8" x2="508.6" y2="631.8" stroke="#fff" stroke-width="0.7"/>
<text x="510.9" y="634.6" font-size="8.3" text-anchor="start" fill="#2b2b2b" >25</text>
<line x1="499.6" y1="641" x2="501.6" y2="641" stroke="#fff" stroke-width="0.7"/>
<line x1="506.6" y1="641" x2="508.6" y2="641" stroke="#fff" stroke-width="0.7"/>
<text x="510.9" y="643.8" font-size="8.3" text-anchor="start" fill="#2b2b2b" >20</text>
<line x1="499.6" y1="649.8" x2="501.6" y2="649.8" stroke="#fff" stroke-width="0.7"/>
<line x1="506.6" y1="649.8" x2="508.6" y2="649.8" stroke="#fff" stroke-width="0.7"/>
<text x="510.9" y="652.6" font-size="8.3" text-anchor="start" fill="#2b2b2b" >15</text>
<line x1="499.6" y1="658.5" x2="501.6" y2="658.5" stroke="#fff" stroke-width="0.7"/>
<line x1="506.6" y1="658.5" x2="508.6" y2="658.5" stroke="#fff" stroke-width="0.7"/>
<text x="510.9" y="661.3" font-size="8.3" text-anchor="start" fill="#2b2b2b" >10</text>
<line x1="499.6" y1="667.3" x2="501.6" y2="667.3" stroke="#fff" stroke-width="0.7"/>
<line x1="506.6" y1="667.3" x2="508.6" y2="667.3" stroke="#fff" stroke-width="0.7"/>
<text x="510.9" y="670.1" font-size="8.3" text-anchor="start" fill="#2b2b2b" >5</text>
<line x1="499.6" y1="676.5" x2="501.6" y2="676.5" stroke="#fff" stroke-width="0.7"/>
<line x1="506.6" y1="676.5" x2="508.6" y2="676.5" stroke="#fff" stroke-width="0.7"/>
<text x="510.9" y="679.3" font-size="8.3" text-anchor="start" fill="#2b2b2b" >0</text>
</g>
</svg>
</body></html>
